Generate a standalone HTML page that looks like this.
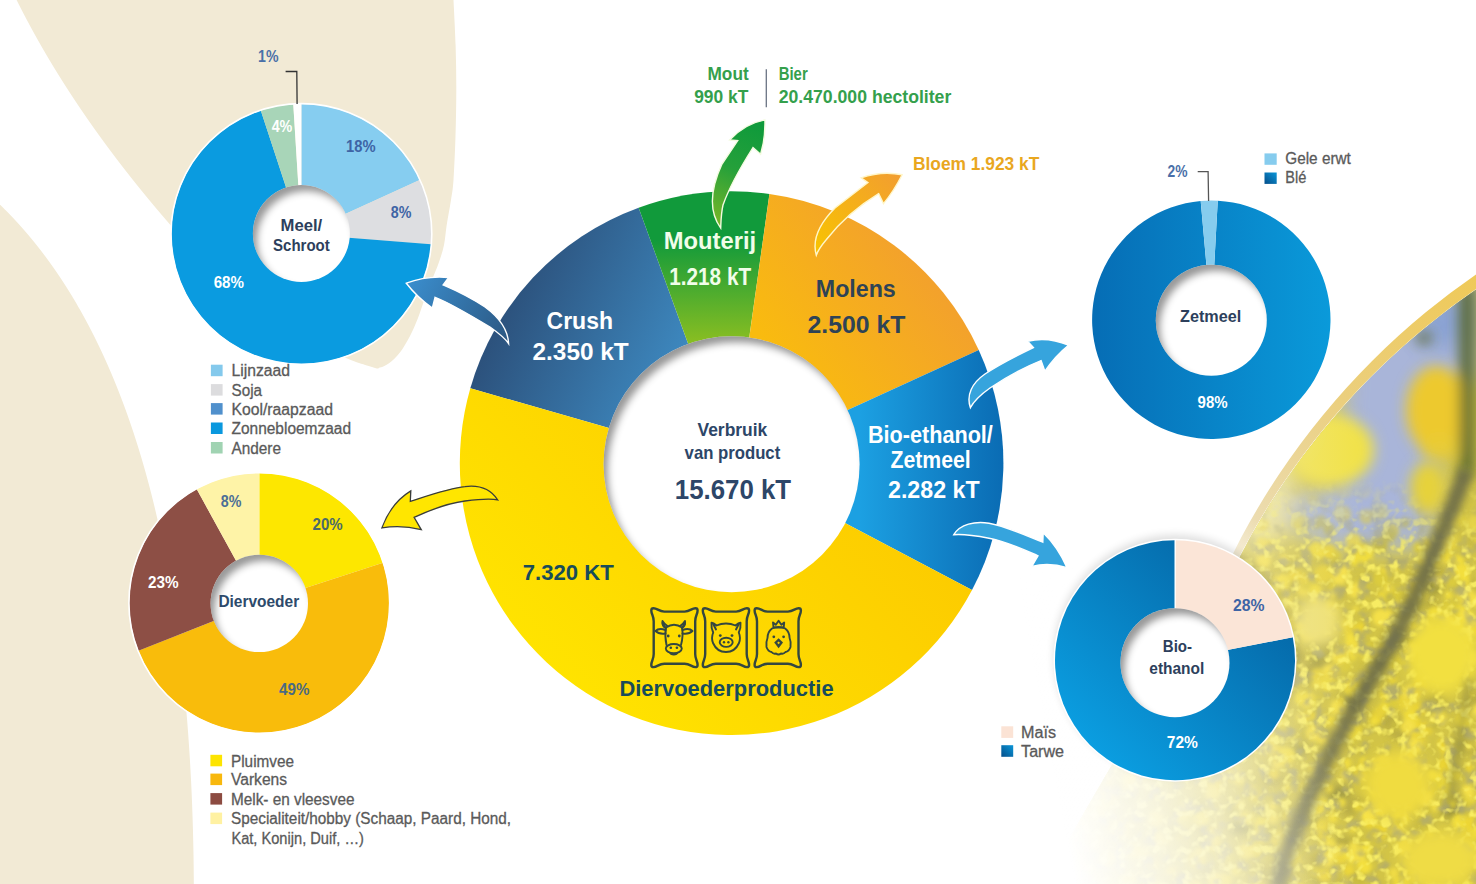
<!DOCTYPE html>
<html><head><meta charset="utf-8"><title>Verbruik van product</title>
<style>
html,body{margin:0;padding:0;background:#fff;}
body{width:1476px;height:884px;overflow:hidden;font-family:"Liberation Sans", sans-serif;}
svg{display:block;}
</style></head><body>
<svg width="1476" height="884" viewBox="0 0 1476 884" font-family='&quot;Liberation Sans&quot;, sans-serif'><defs><radialGradient id="hole" cx="0.57" cy="0.58" r="0.6"><stop offset="0.72" stop-color="#fff"/><stop offset="0.86" stop-color="#f4f4f4"/><stop offset="1" stop-color="#8e8e8e"/></radialGradient>
<filter id="inset" x="-20%" y="-20%" width="140%" height="140%"><feFlood flood-color="#000" flood-opacity="0.68" result="fl"/><feComposite in="fl" in2="SourceAlpha" operator="out" result="inv"/><feOffset in="inv" dx="5" dy="7" result="off"/><feGaussianBlur in="off" stdDeviation="3.6" result="bl"/><feComposite in="bl" in2="SourceAlpha" operator="in" result="sh"/><feMerge><feMergeNode in="SourceGraphic"/><feMergeNode in="sh"/></feMerge></filter>
<linearGradient id="gCrush" gradientUnits="userSpaceOnUse" x1="495" y1="300" x2="690" y2="390"><stop offset="0" stop-color="#2b4e78"/><stop offset="1" stop-color="#3f8ec6"/></linearGradient>
<linearGradient id="gMout" gradientUnits="userSpaceOnUse" x1="0" y1="240" x2="0" y2="340"><stop offset="0" stop-color="#119a3b"/><stop offset="1" stop-color="#86bd22"/></linearGradient>
<linearGradient id="gMol" gradientUnits="userSpaceOnUse" x1="780" y1="360" x2="930" y2="240"><stop offset="0" stop-color="#f9bb0f"/><stop offset="1" stop-color="#f29e30"/></linearGradient>
<linearGradient id="gBio" gradientUnits="userSpaceOnUse" x1="860" y1="0" x2="1005" y2="0"><stop offset="0" stop-color="#1ca0e2"/><stop offset="1" stop-color="#0a6bb3"/></linearGradient>
<linearGradient id="gYel" gradientUnits="userSpaceOnUse" x1="900" y1="450" x2="600" y2="740"><stop offset="0" stop-color="#fcc900"/><stop offset="1" stop-color="#ffe400"/></linearGradient>
<linearGradient id="gZet" gradientUnits="userSpaceOnUse" x1="1092" y1="0" x2="1331" y2="0"><stop offset="0" stop-color="#066db5"/><stop offset="1" stop-color="#0a9ada"/></linearGradient>
<linearGradient id="gTar" gradientUnits="userSpaceOnUse" x1="1280" y1="560" x2="1090" y2="760"><stop offset="0" stop-color="#04609f"/><stop offset="1" stop-color="#0ba0e3"/></linearGradient>
<linearGradient id="gBle" x1="0" y1="1" x2="1" y2="0"><stop offset="0" stop-color="#054e8a"/><stop offset="1" stop-color="#0a96d8"/></linearGradient>
<linearGradient id="gTarw" x1="0" y1="1" x2="1" y2="0"><stop offset="0" stop-color="#054e8a"/><stop offset="1" stop-color="#0a96d8"/></linearGradient>
<linearGradient id="aGreen" gradientUnits="userSpaceOnUse" x1="760" y1="125" x2="715" y2="228"><stop offset="0" stop-color="#0f9a3b"/><stop offset="0.45" stop-color="#25a03a"/><stop offset="1" stop-color="#7db826"/></linearGradient>
<linearGradient id="aOrange" gradientUnits="userSpaceOnUse" x1="900" y1="175" x2="815" y2="255"><stop offset="0" stop-color="#f29e30"/><stop offset="1" stop-color="#f8c400"/></linearGradient>
<linearGradient id="aCrush" gradientUnits="userSpaceOnUse" x1="410" y1="285" x2="508" y2="340"><stop offset="0" stop-color="#3a8ccb"/><stop offset="1" stop-color="#2c5883"/></linearGradient>
<clipPath id="photoClip"><path d="M1476,289.56 A736.8,736.8 0 0 0 1238.09,560 C1190,640 1110,760 1045,884 L1476,884 Z"/></clipPath>
<filter id="blur12" x="-50%" y="-50%" width="200%" height="200%"><feGaussianBlur stdDeviation="12"/></filter>
<filter id="blur8" x="-50%" y="-50%" width="200%" height="200%"><feGaussianBlur stdDeviation="7"/></filter>
<filter id="blur4" x="-50%" y="-50%" width="200%" height="200%"><feGaussianBlur stdDeviation="4"/></filter>
<filter id="blur2" x="-50%" y="-50%" width="200%" height="200%"><feGaussianBlur stdDeviation="2.2"/></filter>
<filter id="blur40" x="-50%" y="-50%" width="200%" height="200%"><feGaussianBlur stdDeviation="38"/></filter>
<filter id="texDark" x="0" y="0" width="100%" height="100%" filterUnits="objectBoundingBox"><feTurbulence type="fractalNoise" baseFrequency="0.07" numOctaves="3" seed="5" result="n"/><feColorMatrix in="n" type="matrix" values="0 0 0 0 0.40  0 0 0 0 0.38  0 0 0 0 0.18  4.2 0 0 0 -2.15" result="c"/><feGaussianBlur in="c" stdDeviation="0.9" result="cb"/><feComposite in="cb" in2="SourceAlpha" operator="in"/></filter>
<filter id="texBright" x="0" y="0" width="100%" height="100%" filterUnits="objectBoundingBox"><feTurbulence type="fractalNoise" baseFrequency="0.11" numOctaves="2" seed="11" result="n"/><feColorMatrix in="n" type="matrix" values="0 0 0 0 0.96  0 0 0 0 0.87  0 0 0 0 0.13  4.5 0 0 0 -2.3" result="c"/><feGaussianBlur in="c" stdDeviation="0.7" result="cb"/><feComposite in="cb" in2="SourceAlpha" operator="in"/></filter>
<linearGradient id="texMaskG" gradientUnits="userSpaceOnUse" x1="0" y1="478" x2="0" y2="560"><stop offset="0" stop-color="#000"/><stop offset="1" stop-color="#fff"/></linearGradient>
<mask id="texMask"><rect x="1040" y="260" width="440" height="630" fill="url(#texMaskG)"/></mask>
<linearGradient id="hazeG" gradientUnits="userSpaceOnUse" x1="1220" y1="0" x2="1360" y2="0"><stop offset="0" stop-color="#f4f0d8" stop-opacity="0.45"/><stop offset="1" stop-color="#f4f0d8" stop-opacity="0"/></linearGradient>
<linearGradient id="bandG" gradientUnits="userSpaceOnUse" x1="1476" y1="270" x2="1225" y2="600"><stop offset="0" stop-color="#efc957"/><stop offset="0.45" stop-color="#ebcf7e"/><stop offset="0.8" stop-color="#ecdcb0"/><stop offset="1" stop-color="#f2e8cc" stop-opacity="0.2"/></linearGradient>
<clipPath id="bandClip"><rect x="1150" y="250" width="330" height="350"/></clipPath>
<linearGradient id="fadeH" gradientUnits="userSpaceOnUse" x1="1065" y1="830" x2="1330" y2="780"><stop offset="0" stop-color="#fff" stop-opacity="1"/><stop offset="0.35" stop-color="#fff" stop-opacity="0.72"/><stop offset="0.7" stop-color="#fff" stop-opacity="0.3"/><stop offset="1" stop-color="#fff" stop-opacity="0"/></linearGradient>
<linearGradient id="fadeV" gradientUnits="userSpaceOnUse" x1="0" y1="560" x2="0" y2="660"><stop offset="0" stop-color="#000"/><stop offset="1" stop-color="#fff"/></linearGradient>
<mask id="fadeMask"><rect x="1000" y="500" width="480" height="390" fill="url(#fadeV)"/></mask></defs>
<rect width="1476" height="884" fill="#fff"/>
<path d="M11.73,-10 C12.55,-8.33 14.97,-3.33 16.62,0 C18.28,3.33 19.97,6.67 21.68,10 C23.39,13.33 25.13,16.67 26.9,20 C28.67,23.33 30.47,26.67 32.29,30 C34.11,33.33 35.96,36.67 37.84,40 C39.72,43.33 41.63,46.67 43.56,50 C45.49,53.33 47.46,56.67 49.44,60 C51.43,63.33 53.45,66.67 55.49,70 C57.54,73.33 59.61,76.67 61.71,80 C63.81,83.33 65.94,86.67 68.09,90 C70.24,93.33 72.43,96.67 74.64,100 C76.85,103.33 79.08,106.67 81.35,110 C83.61,113.33 85.91,116.67 88.23,120 C90.55,123.33 92.89,126.67 95.27,130 C97.64,133.33 100.05,136.67 102.48,140 C104.91,143.33 107.37,146.67 109.85,150 C112.34,153.33 114.85,156.67 117.39,160 C119.93,163.33 122.5,166.67 125.1,170 C127.69,173.33 130.31,176.67 132.97,180 C135.62,183.33 138.3,186.67 141,190 C143.71,193.33 146.44,196.67 149.2,200 C151.97,203.33 154.75,206.67 157.57,210 C160.39,213.33 163.23,216.67 166.1,220 C168.98,223.33 171.88,226.67 174.8,230 C177.73,233.33 180.68,236.67 183.67,240 C186.65,243.33 189.66,246.67 192.7,250 C195.73,253.33 198.8,256.67 201.89,260 C204.98,263.33 208.11,266.67 211.25,270 C214.4,273.33 217.58,276.67 220.78,280 C223.98,283.33 212.27,278.33 230.47,290 C248.67,301.67 306.41,337.17 330,350 C353.59,362.83 363.67,364.08 372,367 C380.33,369.92 377.17,368.12 380,367.5 C382.83,366.88 385.68,365.8 389,363.3 C392.32,360.8 396.42,357.02 399.9,352.5 C403.38,347.98 406.88,341.95 409.9,336.2 C412.92,330.45 415.6,324.03 418,318 C420.4,311.97 421.97,306.33 424.3,300 C426.63,293.67 429.55,286.33 432,280 C434.45,273.67 437,267.83 439,262 C441,256.17 442.72,251.17 444,245 C445.28,238.83 445.53,232.5 446.7,225 C447.87,217.5 449.87,207.5 451,200 C452.13,192.5 452.75,190.67 453.5,180 C454.25,169.33 455.03,151 455.5,136 C455.97,121 456.28,105.17 456.3,90 C456.32,74.83 456.07,60 455.6,45 C455.13,30 453.85,7.5 453.5,0 Z" fill="#f2ead5"/>
<path d="M-2,203 C-1.6,203.33 -1.01,203.67 0.4,205 C1.8,206.33 4.46,209 6.44,211 C8.41,213 10.34,215 12.23,217 C14.12,219 15.98,221 17.8,223 C19.62,225 21.4,227 23.16,229 C24.91,231 26.63,233 28.32,235 C30.01,237 31.67,239 33.3,241 C34.93,243 36.53,245 38.1,247 C39.68,249 41.22,251 42.74,253 C44.27,255 45.76,257 47.23,259 C48.7,261 50.15,263 51.57,265 C53,267 54.4,269 55.78,271 C57.16,273 58.51,275 59.85,277 C61.18,279 62.5,281 63.79,283 C65.09,285 66.36,287 67.62,289 C68.88,291 70.11,293 71.33,295 C72.55,297 73.19,298 74.94,301 C76.69,304 79.6,309 81.84,313 C84.07,317 86.24,321 88.35,325 C90.47,329 92.52,333 94.52,337 C96.51,341 98.46,345 100.35,349 C102.24,353 104.08,357 105.88,361 C107.67,365 109.42,369 111.12,373 C112.82,377 114.48,381 116.09,385 C117.71,389 119.28,393 120.82,397 C122.35,401 123.85,405 125.31,409 C126.77,413 128.19,417 129.57,421 C130.96,425 132.31,429 133.63,433 C134.94,437 136.23,441 137.48,445 C138.73,449 139.95,453 141.15,457 C142.34,461 143.5,465 144.63,469 C145.76,473 146.87,477 147.94,481 C149.02,485 150.07,489 151.09,493 C152.12,497 153.11,501 154.09,505 C155.06,509 156,513 156.93,517 C157.85,521 158.75,525 159.63,529 C160.51,533 161.36,537 162.19,541 C163.02,545 163.83,549 164.62,553 C165.41,557 166.18,561 166.93,565 C167.67,569 168.4,573 169.11,577 C169.81,581 170.5,585 171.17,589 C171.84,593 172.49,597 173.12,601 C173.75,605 174.37,609 174.96,613 C175.56,617 176.14,621 176.7,625 C177.26,629 177.81,633 178.34,637 C178.86,641 179.38,645 179.87,649 C180.37,653 180.85,657 181.31,661 C181.78,665 182.23,669 182.66,673 C183.09,677 183.51,681 183.92,685 C184.32,689 184.71,693 185.09,697 C185.47,701 185.83,705 186.18,709 C186.53,713 186.86,717 187.19,721 C187.51,725 187.82,729 188.11,733 C188.41,737 188.69,741 188.96,745 C189.23,749 189.49,753 189.74,757 C189.98,761 190.22,765 190.44,769 C190.66,773 190.87,777 191.07,781 C191.27,785 191.46,789 191.63,793 C191.81,797 191.97,801 192.13,805 C192.28,809 192.42,813 192.56,817 C192.69,821 192.81,825 192.92,829 C193.03,833 193.13,837 193.22,841 C193.32,845 193.4,849 193.47,853 C193.54,857 193.6,861 193.65,865 C193.7,869 193.74,873.83 193.77,877 C193.8,880.17 193.81,881.83 193.82,884 C193.83,886.17 193.84,889 193.84,890 L0,890 Z" fill="#f2ead5"/>
<g clip-path="url(#photoClip)">
<rect x="1040" y="260" width="440" height="630" fill="#d2c447"/>
<g filter="url(#blur12)">
<path d="M1345,335 L1425,300 L1476,270 L1476,380 L1452,380 L1440,440 L1430,548 L1335,548 L1290,528 L1288,498 L1335,488 Z" fill="#a9b5d9"/>
<ellipse cx="1445" cy="320" rx="28" ry="30" fill="#8aa3d4"/>
<ellipse cx="1262" cy="480" rx="30" ry="70" fill="#ece39a"/>
</g>
<g filter="url(#blur8)">
<ellipse cx="1330" cy="450" rx="44" ry="36" fill="#f1e24a"/>
<ellipse cx="1296" cy="428" rx="24" ry="34" fill="#efe150"/>
<ellipse cx="1436" cy="410" rx="30" ry="44" fill="#edc92e"/>
<ellipse cx="1440" cy="448" rx="20" ry="12" fill="#e9cc34"/>
<ellipse cx="1424" cy="338" rx="8" ry="6" fill="#5a662f"/>
<rect x="1460" y="285" width="14" height="190" fill="#50602e"/>
</g>
<g mask="url(#texMask)">
<g filter="url(#blur4)" opacity="0.8"><ellipse cx="1290.67" cy="584.31" rx="9.56" ry="4.36" fill="#b0a444"/><ellipse cx="1226.36" cy="739.8" rx="11.37" ry="5.07" fill="#a49a3c"/><ellipse cx="1321.42" cy="555.15" rx="5.63" ry="6.12" fill="#b0a444"/><ellipse cx="1234.66" cy="610.37" rx="9.39" ry="8.74" fill="#b0a444"/><ellipse cx="1363.95" cy="547.85" rx="6.55" ry="6.78" fill="#a49a3c"/><ellipse cx="1281.09" cy="581.93" rx="5.82" ry="5.54" fill="#b0a444"/><ellipse cx="1250.6" cy="739.38" rx="9.47" ry="5.86" fill="#b0a444"/><ellipse cx="1399.39" cy="733.17" rx="9.33" ry="6.48" fill="#b0a444"/><ellipse cx="1319.73" cy="643.09" rx="9.1" ry="6.27" fill="#8f8a3a"/><ellipse cx="1269.56" cy="594.72" rx="10.46" ry="4.41" fill="#8f8a3a"/><ellipse cx="1347.06" cy="845.05" rx="10.11" ry="5.44" fill="#a49a3c"/><ellipse cx="1233.06" cy="680.52" rx="10.3" ry="4.76" fill="#8f8a3a"/><ellipse cx="1318.08" cy="876.33" rx="5.54" ry="6.79" fill="#8f8a3a"/><ellipse cx="1295.23" cy="656.06" rx="8.48" ry="7.98" fill="#a49a3c"/><ellipse cx="1435.19" cy="870.09" rx="8.32" ry="7.32" fill="#a49a3c"/><ellipse cx="1404.72" cy="641.46" rx="9.05" ry="7.41" fill="#8f8a3a"/><ellipse cx="1279.69" cy="668.88" rx="9.68" ry="4.11" fill="#8f8a3a"/><ellipse cx="1299.53" cy="749.93" rx="8.46" ry="5.09" fill="#8f8a3a"/><ellipse cx="1236.22" cy="619.14" rx="7.74" ry="8.36" fill="#a49a3c"/><ellipse cx="1246.58" cy="674.59" rx="6.94" ry="4.68" fill="#8f8a3a"/><ellipse cx="1441.92" cy="630.23" rx="7.91" ry="5.79" fill="#8f8a3a"/><ellipse cx="1468.16" cy="584.33" rx="6.23" ry="5.16" fill="#a49a3c"/><ellipse cx="1203.38" cy="829.19" rx="6.28" ry="5.41" fill="#a49a3c"/><ellipse cx="1317.31" cy="662.93" rx="8.96" ry="8.77" fill="#b0a444"/><ellipse cx="1440.58" cy="872.08" rx="9.58" ry="7.7" fill="#8f8a3a"/><ellipse cx="1451.87" cy="810.79" rx="11.12" ry="7.99" fill="#8f8a3a"/><ellipse cx="1311.46" cy="671.88" rx="8.37" ry="6" fill="#a49a3c"/><ellipse cx="1218.86" cy="605.15" rx="6.14" ry="5.7" fill="#a49a3c"/><ellipse cx="1228.67" cy="734.04" rx="8.76" ry="8.74" fill="#b0a444"/><ellipse cx="1207.14" cy="844.76" rx="9.3" ry="4.74" fill="#8f8a3a"/><ellipse cx="1467.53" cy="746.82" rx="8.32" ry="4.58" fill="#8f8a3a"/><ellipse cx="1478.07" cy="697.76" rx="8.39" ry="4.43" fill="#a49a3c"/><ellipse cx="1409.91" cy="796.53" rx="8.35" ry="7.46" fill="#b0a444"/><ellipse cx="1206.47" cy="872.35" rx="8.7" ry="4.73" fill="#b0a444"/><ellipse cx="1455.96" cy="802.93" rx="7.09" ry="7.21" fill="#a49a3c"/><ellipse cx="1394.94" cy="624" rx="7.57" ry="4.84" fill="#a49a3c"/><ellipse cx="1349.13" cy="810.46" rx="7.31" ry="5.12" fill="#a49a3c"/><ellipse cx="1425.7" cy="824.6" rx="10.18" ry="5.13" fill="#b0a444"/><ellipse cx="1337.98" cy="793.16" rx="11.93" ry="7.95" fill="#8f8a3a"/><ellipse cx="1272.57" cy="779.31" rx="11.7" ry="6.24" fill="#b0a444"/><ellipse cx="1476.65" cy="873.8" rx="7.55" ry="5.1" fill="#a49a3c"/><ellipse cx="1331.62" cy="651.59" rx="8.38" ry="8.93" fill="#b0a444"/><ellipse cx="1435.32" cy="702.61" rx="9.57" ry="8" fill="#a49a3c"/><ellipse cx="1433.7" cy="573.17" rx="7.72" ry="7.56" fill="#a49a3c"/><ellipse cx="1333.85" cy="594.27" rx="10.52" ry="5.66" fill="#b0a444"/><ellipse cx="1310.83" cy="674.5" rx="11.63" ry="7.62" fill="#a49a3c"/><ellipse cx="1478.07" cy="539.92" rx="9.14" ry="6.33" fill="#b0a444"/><ellipse cx="1240.93" cy="827.54" rx="11.86" ry="7.29" fill="#8f8a3a"/><ellipse cx="1243.66" cy="727.38" rx="5.15" ry="8" fill="#b0a444"/><ellipse cx="1381.91" cy="719.57" rx="11.54" ry="6.17" fill="#a49a3c"/><ellipse cx="1431.32" cy="605.98" rx="6.76" ry="5.46" fill="#a49a3c"/><ellipse cx="1413.83" cy="647.36" rx="8.81" ry="8.17" fill="#a49a3c"/><ellipse cx="1454.8" cy="657.36" rx="8.21" ry="6.92" fill="#b0a444"/><ellipse cx="1317.78" cy="860.38" rx="8.51" ry="6.66" fill="#b0a444"/><ellipse cx="1342.95" cy="844.21" rx="10.44" ry="7.04" fill="#a49a3c"/><ellipse cx="1248.26" cy="700.46" rx="10.08" ry="6.78" fill="#8f8a3a"/><ellipse cx="1391.05" cy="721.06" rx="8.38" ry="7.88" fill="#b0a444"/><ellipse cx="1215.91" cy="598.87" rx="5.3" ry="4.49" fill="#8f8a3a"/><ellipse cx="1357.28" cy="803.6" rx="11.39" ry="6.22" fill="#b0a444"/><ellipse cx="1472.54" cy="748.21" rx="6.4" ry="5.39" fill="#b0a444"/><ellipse cx="1349.32" cy="702.09" rx="11.59" ry="7.5" fill="#8f8a3a"/><ellipse cx="1458.38" cy="851.39" rx="6.42" ry="6.24" fill="#8f8a3a"/><ellipse cx="1234.05" cy="689.16" rx="5.51" ry="5.2" fill="#a49a3c"/><ellipse cx="1259.55" cy="639" rx="5.86" ry="7.88" fill="#b0a444"/><ellipse cx="1380.17" cy="661.83" rx="6.77" ry="4.69" fill="#8f8a3a"/><ellipse cx="1261.48" cy="872.9" rx="7.79" ry="6.44" fill="#b0a444"/><ellipse cx="1433.08" cy="588.13" rx="8.02" ry="6.58" fill="#8f8a3a"/><ellipse cx="1317.96" cy="658.38" rx="5.65" ry="5.83" fill="#8f8a3a"/><ellipse cx="1355.13" cy="688.56" rx="5.13" ry="5.66" fill="#b0a444"/><ellipse cx="1282.73" cy="875.88" rx="5.79" ry="8.59" fill="#a49a3c"/></g>
<g filter="url(#blur2)"><circle cx="1467.55" cy="487.15" r="3.24" fill="#f6e24a"/><circle cx="1159" cy="498.3" r="8.47" fill="#f0dc44"/><circle cx="1218.62" cy="681.47" r="6.09" fill="#dccc3c"/><circle cx="1348.18" cy="480.26" r="7.13" fill="#f1dd3a"/><circle cx="1433.93" cy="561.02" r="3.1" fill="#ecd535"/><circle cx="1069.31" cy="828.25" r="5.72" fill="#f4e04a"/><circle cx="1477.49" cy="627.99" r="8.49" fill="#f6e24a"/><circle cx="1059.01" cy="759.29" r="8.63" fill="#f6e24a"/><circle cx="1316.62" cy="678.99" r="4.24" fill="#dccc3c"/><circle cx="1260.04" cy="520.05" r="3.11" fill="#f0dc44"/><circle cx="1470.34" cy="671.41" r="4.47" fill="#dccc3c"/><circle cx="1086.76" cy="808.51" r="5.59" fill="#dccc3c"/><circle cx="1280.2" cy="839.93" r="8.82" fill="#f0dc44"/><circle cx="1342.61" cy="882.1" r="5.06" fill="#f6e24a"/><circle cx="1218.07" cy="596.4" r="3.33" fill="#f6e24a"/><circle cx="1046.27" cy="721.45" r="8.28" fill="#f1dd3a"/><circle cx="1423.04" cy="741.74" r="4.69" fill="#e6d23a"/><circle cx="1184.73" cy="883.21" r="4.94" fill="#f3df3c"/><circle cx="1464.89" cy="579.3" r="5.14" fill="#f3df3c"/><circle cx="1328.65" cy="551.68" r="7.66" fill="#ecd535"/><circle cx="1142.44" cy="703.51" r="6.18" fill="#f6e24a"/><circle cx="1329.32" cy="762.2" r="8.27" fill="#f1dd3a"/><circle cx="1376.3" cy="764.3" r="5.97" fill="#f0dc44"/><circle cx="1358.63" cy="729.45" r="3.26" fill="#c8bb40"/><circle cx="1316.03" cy="770.23" r="7.87" fill="#f6e24a"/><circle cx="1440.35" cy="778.79" r="6.41" fill="#f3df3c"/><circle cx="1403.62" cy="702.83" r="8.36" fill="#e6d23a"/><circle cx="1462.19" cy="609.48" r="5.71" fill="#f3df3c"/><circle cx="1316.22" cy="721.8" r="7.08" fill="#dccc3c"/><circle cx="1156.07" cy="645.63" r="3.42" fill="#c8bb40"/><circle cx="1368.12" cy="653.24" r="7.86" fill="#f0dc44"/><circle cx="1143.31" cy="780.4" r="4.38" fill="#dccc3c"/><circle cx="1257.34" cy="612.15" r="5.87" fill="#f0dc44"/><circle cx="1377.47" cy="717.64" r="6.86" fill="#ecd535"/><circle cx="1303.87" cy="589.3" r="6.91" fill="#f0dc44"/><circle cx="1313.31" cy="500.05" r="5.91" fill="#ecd535"/><circle cx="1344.56" cy="744.07" r="4.75" fill="#c8bb40"/><circle cx="1165.64" cy="649.65" r="7.6" fill="#c8bb40"/><circle cx="1127.67" cy="880.16" r="8.62" fill="#f3df3c"/><circle cx="1477.63" cy="887.29" r="5.32" fill="#e6d23a"/><circle cx="1155.2" cy="601.8" r="6.62" fill="#c8bb40"/><circle cx="1259.07" cy="834.27" r="5.36" fill="#f6e24a"/><circle cx="1041.58" cy="661.26" r="5.7" fill="#f0dc44"/><circle cx="1359.96" cy="627.28" r="5.26" fill="#ecd535"/><circle cx="1353.73" cy="845.7" r="4.74" fill="#f4e04a"/><circle cx="1068.59" cy="615.57" r="8.22" fill="#ecd535"/><circle cx="1198.71" cy="632.62" r="4.65" fill="#f3df3c"/><circle cx="1231.95" cy="582.02" r="7.64" fill="#f1dd3a"/><circle cx="1429.08" cy="805.38" r="6.79" fill="#c8bb40"/><circle cx="1281.66" cy="763.81" r="3.3" fill="#f1dd3a"/><circle cx="1238.38" cy="778.7" r="6.87" fill="#f0dc44"/><circle cx="1253.65" cy="850.36" r="6.3" fill="#f6e24a"/><circle cx="1247.76" cy="594.65" r="4.79" fill="#f0dc44"/><circle cx="1218.73" cy="547.4" r="5.9" fill="#f1dd3a"/><circle cx="1092.69" cy="729.44" r="3.45" fill="#c8bb40"/><circle cx="1438.62" cy="663.68" r="4.32" fill="#f4e04a"/><circle cx="1478.45" cy="642.48" r="3.84" fill="#e6d23a"/><circle cx="1147.4" cy="518.61" r="4.92" fill="#f4e04a"/><circle cx="1153.68" cy="696.33" r="8.32" fill="#f1dd3a"/><circle cx="1208.45" cy="775.63" r="4.26" fill="#f0dc44"/><circle cx="1317.04" cy="828.29" r="4.3" fill="#f0dc44"/><circle cx="1434.59" cy="613.05" r="6.87" fill="#f1dd3a"/><circle cx="1459.74" cy="821.91" r="8.24" fill="#f3df3c"/><circle cx="1095.99" cy="631.34" r="7.58" fill="#dccc3c"/><circle cx="1466.04" cy="660.42" r="3.44" fill="#c8bb40"/><circle cx="1416.4" cy="877.51" r="4.49" fill="#ecd535"/><circle cx="1087.91" cy="811.43" r="7.21" fill="#dccc3c"/><circle cx="1077.4" cy="789.59" r="3.01" fill="#f6e24a"/><circle cx="1142.33" cy="853.96" r="6.87" fill="#f0dc44"/><circle cx="1463.47" cy="721.91" r="6.17" fill="#f1dd3a"/><circle cx="1347.38" cy="490.46" r="6.15" fill="#e6d23a"/><circle cx="1210.76" cy="540.61" r="6.61" fill="#f3df3c"/><circle cx="1276.49" cy="888.37" r="4.67" fill="#f4e04a"/><circle cx="1323.61" cy="837.7" r="5.85" fill="#e6d23a"/><circle cx="1429.33" cy="731.23" r="3.49" fill="#e6d23a"/><circle cx="1333.64" cy="856.32" r="4.36" fill="#f3df3c"/><circle cx="1346.16" cy="763.25" r="5.17" fill="#f1dd3a"/><circle cx="1127.16" cy="798.68" r="7.43" fill="#c8bb40"/><circle cx="1069.67" cy="663.06" r="4.2" fill="#e6d23a"/><circle cx="1141.56" cy="539.65" r="7.56" fill="#f0dc44"/><circle cx="1087.96" cy="720.62" r="6.66" fill="#e6d23a"/><circle cx="1253.42" cy="849.68" r="3.34" fill="#f6e24a"/><circle cx="1302.3" cy="626.92" r="7.26" fill="#f6e24a"/><circle cx="1213.06" cy="844.18" r="8.3" fill="#ecd535"/><circle cx="1478.91" cy="859.22" r="4.98" fill="#f6e24a"/><circle cx="1327.09" cy="676.16" r="5.81" fill="#f0dc44"/><circle cx="1332.35" cy="610.38" r="5.24" fill="#f4e04a"/><circle cx="1234.67" cy="489.03" r="3.48" fill="#f1dd3a"/><circle cx="1131.26" cy="600.48" r="7.93" fill="#f1dd3a"/><circle cx="1078.61" cy="757.37" r="4.17" fill="#c8bb40"/><circle cx="1444.58" cy="526.86" r="8.38" fill="#f3df3c"/><circle cx="1317.93" cy="551.61" r="6.75" fill="#f1dd3a"/><circle cx="1444.83" cy="555.66" r="7.48" fill="#f4e04a"/><circle cx="1199.71" cy="590.74" r="8.72" fill="#f3df3c"/><circle cx="1155.36" cy="762.49" r="4.9" fill="#f0dc44"/><circle cx="1170.86" cy="764.71" r="6.57" fill="#ecd535"/><circle cx="1050.67" cy="545.24" r="5.85" fill="#dccc3c"/><circle cx="1459.72" cy="613.93" r="4.51" fill="#f1dd3a"/><circle cx="1043.83" cy="858.98" r="4.82" fill="#f6e24a"/><circle cx="1307.19" cy="587.51" r="4.92" fill="#f4e04a"/><circle cx="1384.89" cy="708.07" r="6.07" fill="#f1dd3a"/><circle cx="1371.27" cy="551.29" r="3.39" fill="#f3df3c"/><circle cx="1251.94" cy="685.08" r="3.96" fill="#f1dd3a"/><circle cx="1428.73" cy="884.52" r="4.59" fill="#ecd535"/><circle cx="1131.67" cy="629.48" r="8.93" fill="#dccc3c"/><circle cx="1116.2" cy="499.82" r="8.35" fill="#e6d23a"/><circle cx="1369.11" cy="821.14" r="6.99" fill="#ecd535"/><circle cx="1383.09" cy="572.27" r="4.68" fill="#f0dc44"/><circle cx="1204.11" cy="772.13" r="4.2" fill="#e6d23a"/><circle cx="1121.72" cy="545.98" r="4.69" fill="#e6d23a"/><circle cx="1183.59" cy="618.23" r="8.95" fill="#c8bb40"/><circle cx="1271.58" cy="732.34" r="3.6" fill="#dccc3c"/><circle cx="1400.41" cy="818.25" r="8.49" fill="#f3df3c"/><circle cx="1425.83" cy="544.8" r="6.6" fill="#e6d23a"/><circle cx="1449.28" cy="607.51" r="8.2" fill="#dccc3c"/><circle cx="1305.34" cy="788.75" r="6.99" fill="#f3df3c"/><circle cx="1086.54" cy="708.27" r="6.72" fill="#e6d23a"/><circle cx="1056.48" cy="593.01" r="3.26" fill="#f0dc44"/><circle cx="1056.82" cy="769.5" r="8.48" fill="#f3df3c"/><circle cx="1400.29" cy="624.05" r="5.23" fill="#f0dc44"/><circle cx="1252.74" cy="623.68" r="7.78" fill="#c8bb40"/><circle cx="1108" cy="680.3" r="6.92" fill="#f1dd3a"/><circle cx="1345.98" cy="624.41" r="4.7" fill="#f0dc44"/><circle cx="1428.83" cy="626.34" r="3.11" fill="#f4e04a"/><circle cx="1323.57" cy="615.83" r="5.43" fill="#f3df3c"/><circle cx="1231.03" cy="510.46" r="3.54" fill="#f4e04a"/><circle cx="1242.8" cy="513.15" r="6.31" fill="#f1dd3a"/><circle cx="1079.17" cy="719.99" r="5.23" fill="#c8bb40"/><circle cx="1115.54" cy="596.58" r="3.97" fill="#f6e24a"/><circle cx="1394.12" cy="875.09" r="4.18" fill="#f6e24a"/><circle cx="1178.39" cy="713.44" r="6.82" fill="#ecd535"/><circle cx="1437.86" cy="719.15" r="7.95" fill="#f6e24a"/><circle cx="1321.74" cy="825.46" r="6.73" fill="#e6d23a"/><circle cx="1404.84" cy="522.33" r="5.4" fill="#c8bb40"/><circle cx="1108.85" cy="601.64" r="3.9" fill="#e6d23a"/><circle cx="1058.08" cy="693.05" r="7.54" fill="#f3df3c"/><circle cx="1333.87" cy="585.89" r="5.34" fill="#dccc3c"/><circle cx="1282.02" cy="722.17" r="4.84" fill="#f1dd3a"/><circle cx="1175.61" cy="552.17" r="5.34" fill="#f4e04a"/><circle cx="1236.59" cy="637.26" r="3.14" fill="#dccc3c"/><circle cx="1244.72" cy="641.07" r="6.71" fill="#dccc3c"/><circle cx="1408.08" cy="804.74" r="5.4" fill="#ecd535"/><circle cx="1096.52" cy="633.77" r="3.55" fill="#dccc3c"/><circle cx="1261.91" cy="735.69" r="3.24" fill="#f6e24a"/><circle cx="1076.19" cy="770.07" r="7.67" fill="#c8bb40"/><circle cx="1075.19" cy="778.43" r="8.37" fill="#f6e24a"/><circle cx="1344.72" cy="489.31" r="8.31" fill="#f0dc44"/><circle cx="1460.92" cy="852.22" r="3.99" fill="#e6d23a"/><circle cx="1068.83" cy="597.9" r="7.54" fill="#f6e24a"/><circle cx="1182.49" cy="716.09" r="8.43" fill="#dccc3c"/><circle cx="1103.17" cy="666" r="8.52" fill="#e6d23a"/><circle cx="1300.43" cy="717.14" r="4.42" fill="#f4e04a"/><circle cx="1056.21" cy="521.94" r="8.62" fill="#f4e04a"/><circle cx="1090.63" cy="678.82" r="6.82" fill="#f4e04a"/><circle cx="1465.11" cy="643.87" r="6.13" fill="#ecd535"/><circle cx="1150.89" cy="681.07" r="8.14" fill="#f4e04a"/><circle cx="1156.49" cy="885.72" r="6.46" fill="#f4e04a"/><circle cx="1310.76" cy="871.09" r="4.78" fill="#c8bb40"/><circle cx="1151.61" cy="727.66" r="8.9" fill="#f4e04a"/><circle cx="1362.54" cy="776.2" r="4.33" fill="#f0dc44"/><circle cx="1311.06" cy="634.5" r="6.08" fill="#f3df3c"/><circle cx="1098.09" cy="542.27" r="6.92" fill="#f3df3c"/><circle cx="1063.93" cy="695.2" r="4.82" fill="#c8bb40"/><circle cx="1197.15" cy="540.92" r="6.5" fill="#f6e24a"/><circle cx="1129.84" cy="720.77" r="5.85" fill="#f6e24a"/><circle cx="1046.21" cy="800.68" r="7.24" fill="#dccc3c"/><circle cx="1082.15" cy="727.19" r="8.23" fill="#f0dc44"/><circle cx="1216.86" cy="558.91" r="3.07" fill="#c8bb40"/><circle cx="1432.78" cy="707.63" r="6.47" fill="#c8bb40"/><circle cx="1362.75" cy="551.82" r="8.42" fill="#f3df3c"/><circle cx="1110.06" cy="850.28" r="3.63" fill="#c8bb40"/><circle cx="1328.99" cy="528.77" r="6.11" fill="#c8bb40"/><circle cx="1324.94" cy="626.86" r="6.68" fill="#c8bb40"/><circle cx="1176.13" cy="575.12" r="3.29" fill="#dccc3c"/><circle cx="1367.88" cy="649.37" r="7.45" fill="#dccc3c"/><circle cx="1117.17" cy="888.47" r="4.57" fill="#f3df3c"/><circle cx="1094.24" cy="841.07" r="8.55" fill="#f0dc44"/><circle cx="1353.14" cy="559.69" r="6.32" fill="#f1dd3a"/><circle cx="1341.72" cy="852.77" r="8.83" fill="#f0dc44"/><circle cx="1322.48" cy="874.31" r="4.3" fill="#c8bb40"/><circle cx="1046.7" cy="557.17" r="4.42" fill="#e6d23a"/><circle cx="1455.67" cy="775.77" r="4.96" fill="#f1dd3a"/><circle cx="1184.56" cy="547.63" r="8.45" fill="#c8bb40"/><circle cx="1246.58" cy="817.87" r="7.19" fill="#f3df3c"/><circle cx="1232.37" cy="766.08" r="6.42" fill="#f0dc44"/><circle cx="1387.25" cy="616.2" r="6.51" fill="#f6e24a"/><circle cx="1448.74" cy="595.19" r="3.85" fill="#f3df3c"/><circle cx="1416.86" cy="782.8" r="4.2" fill="#c8bb40"/><circle cx="1442.34" cy="864.95" r="3.64" fill="#e6d23a"/><circle cx="1440.89" cy="779.19" r="3.52" fill="#f0dc44"/><circle cx="1324.38" cy="572.51" r="5.02" fill="#f0dc44"/><circle cx="1049.2" cy="555.52" r="4.7" fill="#f4e04a"/><circle cx="1440.55" cy="786.16" r="6.61" fill="#dccc3c"/><circle cx="1414.61" cy="718.22" r="3.19" fill="#f1dd3a"/><circle cx="1053.75" cy="673.38" r="3.59" fill="#dccc3c"/><circle cx="1350.05" cy="682.05" r="4.3" fill="#ecd535"/><circle cx="1292.8" cy="569.2" r="5.62" fill="#c8bb40"/><circle cx="1128.9" cy="782.98" r="8.87" fill="#f3df3c"/><circle cx="1403.15" cy="875.22" r="6.56" fill="#c8bb40"/><circle cx="1154.65" cy="864.74" r="4.7" fill="#e6d23a"/><circle cx="1452.85" cy="544.19" r="3.99" fill="#ecd535"/><circle cx="1255.73" cy="886" r="6.37" fill="#ecd535"/><circle cx="1316.29" cy="600.03" r="5.41" fill="#f1dd3a"/><circle cx="1432.41" cy="775.35" r="5.53" fill="#f3df3c"/><circle cx="1203.66" cy="576.41" r="5.57" fill="#c8bb40"/><circle cx="1260.52" cy="610.69" r="8.3" fill="#e6d23a"/><circle cx="1343.26" cy="712.41" r="3.2" fill="#f4e04a"/><circle cx="1269.56" cy="830.6" r="5.7" fill="#c8bb40"/><circle cx="1366.47" cy="516.3" r="7.64" fill="#e6d23a"/><circle cx="1095.47" cy="647.91" r="8.31" fill="#e6d23a"/><circle cx="1263.39" cy="560.37" r="7.53" fill="#f6e24a"/><circle cx="1358.27" cy="878.65" r="7.34" fill="#c8bb40"/><circle cx="1193.4" cy="546.3" r="8.73" fill="#f0dc44"/><circle cx="1469.07" cy="767.93" r="3.61" fill="#ecd535"/><circle cx="1125.99" cy="507.93" r="4.81" fill="#f0dc44"/><circle cx="1231.37" cy="528.29" r="3.64" fill="#e6d23a"/><circle cx="1429.51" cy="648.76" r="3.08" fill="#f1dd3a"/><circle cx="1345.11" cy="665.22" r="6.79" fill="#dccc3c"/><circle cx="1049.73" cy="555.75" r="7.43" fill="#f3df3c"/><circle cx="1366.02" cy="848.6" r="5.58" fill="#f1dd3a"/><circle cx="1412.24" cy="740.55" r="6.91" fill="#e6d23a"/><circle cx="1339.02" cy="728.69" r="5.72" fill="#f4e04a"/><circle cx="1154.32" cy="755.29" r="8.37" fill="#e6d23a"/><circle cx="1384.25" cy="760.92" r="6.78" fill="#f0dc44"/><circle cx="1413.75" cy="657.23" r="3.12" fill="#f1dd3a"/><circle cx="1268.03" cy="737.5" r="8.24" fill="#f4e04a"/><circle cx="1382.4" cy="614.92" r="5.94" fill="#ecd535"/><circle cx="1056.78" cy="684.51" r="3.97" fill="#e6d23a"/><circle cx="1278.06" cy="762.78" r="6.07" fill="#f4e04a"/><circle cx="1269.54" cy="624.66" r="8.69" fill="#e6d23a"/><circle cx="1475.72" cy="522.71" r="8.6" fill="#f4e04a"/><circle cx="1320.53" cy="553.61" r="5.29" fill="#f3df3c"/><circle cx="1045.86" cy="628.36" r="5.52" fill="#f4e04a"/><circle cx="1295.28" cy="489.17" r="5.4" fill="#c8bb40"/><circle cx="1467.46" cy="887.4" r="8.77" fill="#dccc3c"/><circle cx="1396.21" cy="725.43" r="5.81" fill="#c8bb40"/><circle cx="1357.11" cy="806.59" r="3.88" fill="#f1dd3a"/><circle cx="1245.96" cy="572.45" r="6.29" fill="#f6e24a"/><circle cx="1383.13" cy="651.23" r="7.7" fill="#e6d23a"/><circle cx="1157.67" cy="609.27" r="4.52" fill="#f1dd3a"/><circle cx="1338.68" cy="656.71" r="7.83" fill="#f0dc44"/><circle cx="1197.51" cy="734.48" r="4.92" fill="#dccc3c"/><circle cx="1228.54" cy="726.79" r="6.96" fill="#f4e04a"/><circle cx="1107.21" cy="576.43" r="5.31" fill="#ecd535"/><circle cx="1404.28" cy="847.61" r="7.7" fill="#f6e24a"/><circle cx="1273.49" cy="595.32" r="6.49" fill="#f3df3c"/><circle cx="1307.61" cy="700.32" r="8.13" fill="#f6e24a"/><circle cx="1381.57" cy="595.9" r="3.92" fill="#f1dd3a"/><circle cx="1307.68" cy="791.58" r="7.01" fill="#c8bb40"/><circle cx="1386.75" cy="817.46" r="4.18" fill="#e6d23a"/><circle cx="1273.55" cy="773.86" r="5.63" fill="#ecd535"/><circle cx="1284.23" cy="559.02" r="4.41" fill="#f6e24a"/><circle cx="1248.23" cy="690.74" r="5.91" fill="#f6e24a"/><circle cx="1348.19" cy="550.95" r="3.99" fill="#f3df3c"/><circle cx="1110.56" cy="584.31" r="7.18" fill="#dccc3c"/><circle cx="1332.73" cy="818.25" r="5.25" fill="#f1dd3a"/><circle cx="1479.98" cy="744.18" r="4.08" fill="#f4e04a"/><circle cx="1340.34" cy="859.17" r="4.98" fill="#ecd535"/><circle cx="1264.68" cy="658.1" r="8.39" fill="#f3df3c"/><circle cx="1133.88" cy="627.02" r="3.76" fill="#ecd535"/><circle cx="1419.14" cy="604.77" r="5.85" fill="#c8bb40"/><circle cx="1283.82" cy="850.55" r="4.7" fill="#f4e04a"/><circle cx="1225.85" cy="689.31" r="7.96" fill="#f0dc44"/><circle cx="1196.28" cy="662.18" r="5" fill="#f0dc44"/><circle cx="1424.1" cy="595.16" r="4.22" fill="#dccc3c"/><circle cx="1388.46" cy="588.9" r="4.9" fill="#f0dc44"/><circle cx="1096.13" cy="877.74" r="3.53" fill="#f3df3c"/><circle cx="1215.51" cy="689.43" r="5.44" fill="#f3df3c"/><circle cx="1215.33" cy="488.83" r="7.93" fill="#dccc3c"/><circle cx="1307.82" cy="736.11" r="7.73" fill="#c8bb40"/><circle cx="1309.17" cy="717.51" r="6.76" fill="#ecd535"/><circle cx="1133.5" cy="740.15" r="5.75" fill="#f6e24a"/><circle cx="1084.6" cy="521.58" r="7.65" fill="#f3df3c"/><circle cx="1202.3" cy="810.17" r="7.72" fill="#c8bb40"/><circle cx="1352.46" cy="828.1" r="4.11" fill="#f3df3c"/><circle cx="1180.13" cy="633.8" r="6.85" fill="#f3df3c"/><circle cx="1259.02" cy="674.97" r="7.95" fill="#f1dd3a"/><circle cx="1293.14" cy="853.38" r="5.68" fill="#f3df3c"/><circle cx="1339.18" cy="707.24" r="8.96" fill="#f6e24a"/><circle cx="1249.2" cy="625.59" r="3.61" fill="#dccc3c"/><circle cx="1133.4" cy="508.29" r="3.03" fill="#ecd535"/><circle cx="1474.13" cy="826.31" r="4.31" fill="#ecd535"/><circle cx="1146.6" cy="770.1" r="4.12" fill="#f3df3c"/><circle cx="1200.98" cy="776.26" r="7.17" fill="#f6e24a"/><circle cx="1352.06" cy="647.26" r="8.59" fill="#f0dc44"/><circle cx="1066.64" cy="837.5" r="7.12" fill="#ecd535"/><circle cx="1211.14" cy="580.62" r="6.6" fill="#dccc3c"/><circle cx="1307.94" cy="582.33" r="8.69" fill="#dccc3c"/><circle cx="1091.35" cy="869.25" r="3.98" fill="#f1dd3a"/><circle cx="1249.86" cy="790.14" r="5.72" fill="#f0dc44"/><circle cx="1385.23" cy="695.07" r="4.75" fill="#f3df3c"/><circle cx="1313.61" cy="732.93" r="7.81" fill="#f4e04a"/><circle cx="1422.61" cy="766.57" r="3.09" fill="#f6e24a"/><circle cx="1304.5" cy="578.87" r="5.57" fill="#e6d23a"/><circle cx="1205.74" cy="748.17" r="6.61" fill="#e6d23a"/><circle cx="1395.29" cy="567.49" r="3.01" fill="#f0dc44"/><circle cx="1375.86" cy="792.39" r="4.73" fill="#f6e24a"/><circle cx="1397.17" cy="830.24" r="6.43" fill="#f0dc44"/><circle cx="1469.16" cy="798.77" r="6.29" fill="#dccc3c"/><circle cx="1390.85" cy="530.19" r="8.59" fill="#e6d23a"/><circle cx="1351.67" cy="856.7" r="6.52" fill="#f3df3c"/><circle cx="1388.33" cy="646.87" r="3.53" fill="#f4e04a"/><circle cx="1379.75" cy="544.79" r="8.38" fill="#c8bb40"/><circle cx="1181.24" cy="667.78" r="4.21" fill="#e6d23a"/><circle cx="1124.62" cy="521.31" r="5.18" fill="#f4e04a"/><circle cx="1217.1" cy="672.75" r="3.89" fill="#f3df3c"/><circle cx="1445.95" cy="661.97" r="8.2" fill="#f4e04a"/><circle cx="1318.41" cy="794.31" r="3.94" fill="#f3df3c"/><circle cx="1191.77" cy="673.76" r="3.12" fill="#f3df3c"/><circle cx="1130.04" cy="831.85" r="6.39" fill="#e6d23a"/><circle cx="1155.1" cy="790.64" r="5.56" fill="#dccc3c"/><circle cx="1377.59" cy="808.47" r="8.78" fill="#f0dc44"/><circle cx="1411.25" cy="592.48" r="8.97" fill="#f1dd3a"/><circle cx="1423.09" cy="646.23" r="8.68" fill="#ecd535"/><circle cx="1419.71" cy="727.93" r="8.53" fill="#ecd535"/><circle cx="1153.17" cy="694.01" r="6.84" fill="#c8bb40"/><circle cx="1212.97" cy="641.75" r="3.96" fill="#e6d23a"/><circle cx="1476.35" cy="539.77" r="3.23" fill="#f0dc44"/><circle cx="1052.23" cy="853.6" r="4.55" fill="#c8bb40"/><circle cx="1352.23" cy="731.01" r="8.91" fill="#f3df3c"/><circle cx="1084.46" cy="582.96" r="3.03" fill="#e6d23a"/><circle cx="1337.83" cy="574.46" r="6.55" fill="#ecd535"/><circle cx="1247.12" cy="607.26" r="5.34" fill="#f4e04a"/><circle cx="1251.78" cy="515.86" r="3.86" fill="#f3df3c"/><circle cx="1245.88" cy="850.66" r="7.79" fill="#f6e24a"/><circle cx="1448.18" cy="539.25" r="8.6" fill="#f4e04a"/><circle cx="1082.67" cy="857.95" r="8.05" fill="#ecd535"/><circle cx="1239.03" cy="592.9" r="7.94" fill="#dccc3c"/><circle cx="1090.87" cy="604.71" r="4.99" fill="#f3df3c"/><circle cx="1119.31" cy="643.12" r="8.34" fill="#dccc3c"/><circle cx="1423.12" cy="559.88" r="5.47" fill="#f6e24a"/><circle cx="1051.18" cy="696.95" r="4.78" fill="#f6e24a"/><circle cx="1252.27" cy="509.02" r="6.79" fill="#e6d23a"/><circle cx="1286.37" cy="815.88" r="3.72" fill="#e6d23a"/><circle cx="1467.11" cy="634.43" r="4.57" fill="#e6d23a"/><circle cx="1169.15" cy="880.38" r="3.1" fill="#c8bb40"/><circle cx="1190" cy="503.06" r="7.99" fill="#c8bb40"/><circle cx="1166.01" cy="602.04" r="3.24" fill="#f1dd3a"/><circle cx="1136.04" cy="697.1" r="3.83" fill="#f6e24a"/><circle cx="1269.53" cy="543.69" r="4.05" fill="#ecd535"/><circle cx="1404.75" cy="840.2" r="7.39" fill="#f0dc44"/><circle cx="1316.52" cy="526.48" r="3.06" fill="#c8bb40"/><circle cx="1219.57" cy="764.75" r="3.33" fill="#f4e04a"/><circle cx="1187.5" cy="818.86" r="8.19" fill="#dccc3c"/><circle cx="1079.75" cy="624.28" r="7.58" fill="#f6e24a"/><circle cx="1423.69" cy="559.82" r="4.12" fill="#f4e04a"/><circle cx="1056.14" cy="756.02" r="6.45" fill="#f3df3c"/><circle cx="1196.71" cy="859.45" r="8.81" fill="#ecd535"/><circle cx="1093.14" cy="761.57" r="7.9" fill="#f4e04a"/><circle cx="1382.81" cy="830.64" r="6.46" fill="#f3df3c"/><circle cx="1099.12" cy="549.59" r="3.53" fill="#f6e24a"/><circle cx="1113.87" cy="580.36" r="6.33" fill="#f3df3c"/><circle cx="1048.56" cy="856.84" r="7.43" fill="#f0dc44"/><circle cx="1047.78" cy="709.73" r="6.46" fill="#c8bb40"/><circle cx="1144.88" cy="639.9" r="5.1" fill="#ecd535"/><circle cx="1257.18" cy="665.34" r="4.68" fill="#ecd535"/><circle cx="1093.48" cy="838" r="6.25" fill="#e6d23a"/><circle cx="1452.54" cy="614.94" r="5.52" fill="#c8bb40"/><circle cx="1055.93" cy="876.72" r="3.31" fill="#f4e04a"/><circle cx="1188.96" cy="548.17" r="5.01" fill="#f1dd3a"/><circle cx="1410.93" cy="693.99" r="8.91" fill="#f4e04a"/><circle cx="1398.62" cy="821.43" r="3.32" fill="#c8bb40"/><circle cx="1104.52" cy="746.07" r="5.12" fill="#f1dd3a"/><circle cx="1122.5" cy="585.96" r="4.2" fill="#f3df3c"/><circle cx="1139.21" cy="629.33" r="5.38" fill="#dccc3c"/><circle cx="1318.61" cy="804.17" r="8.31" fill="#f3df3c"/><circle cx="1055.12" cy="728.71" r="4.59" fill="#f0dc44"/><circle cx="1316.43" cy="802.85" r="3.21" fill="#ecd535"/><circle cx="1150.26" cy="674.14" r="5.6" fill="#f3df3c"/><circle cx="1166.51" cy="577.44" r="6.89" fill="#ecd535"/><circle cx="1066.55" cy="871.59" r="8.53" fill="#f0dc44"/><circle cx="1077.17" cy="705.61" r="8.59" fill="#dccc3c"/><circle cx="1094.52" cy="499.12" r="5.44" fill="#f0dc44"/><circle cx="1160.61" cy="771.17" r="7.44" fill="#f0dc44"/><circle cx="1409.49" cy="714.48" r="6.42" fill="#f1dd3a"/><circle cx="1128.52" cy="759.66" r="5.77" fill="#c8bb40"/><circle cx="1173.63" cy="655.04" r="7.91" fill="#f3df3c"/><circle cx="1146.59" cy="539.71" r="6.07" fill="#f1dd3a"/><circle cx="1466.63" cy="618.4" r="8.55" fill="#f6e24a"/><circle cx="1419.22" cy="547.34" r="6.34" fill="#dccc3c"/><circle cx="1158.77" cy="835.27" r="4.3" fill="#f3df3c"/><circle cx="1379.74" cy="511.36" r="8.23" fill="#dccc3c"/><circle cx="1329.4" cy="672.65" r="8.01" fill="#f4e04a"/><circle cx="1363.58" cy="489.16" r="8.76" fill="#f6e24a"/><circle cx="1223.37" cy="740.71" r="3.84" fill="#e6d23a"/><circle cx="1311.17" cy="822.5" r="7.93" fill="#c8bb40"/><circle cx="1081.82" cy="825.32" r="8.53" fill="#dccc3c"/><circle cx="1158.22" cy="723.8" r="6.79" fill="#f6e24a"/><circle cx="1162.9" cy="719.63" r="3.67" fill="#dccc3c"/><circle cx="1344.76" cy="569.63" r="5.12" fill="#f4e04a"/><circle cx="1211.9" cy="689.91" r="5.31" fill="#f4e04a"/><circle cx="1042.98" cy="775.6" r="8.94" fill="#f1dd3a"/><circle cx="1235.37" cy="522.9" r="3.87" fill="#f1dd3a"/><circle cx="1182.5" cy="819.53" r="8.03" fill="#f4e04a"/><circle cx="1129.9" cy="631.9" r="8.46" fill="#f3df3c"/><circle cx="1051.25" cy="555.45" r="8.38" fill="#f0dc44"/><circle cx="1444.94" cy="788.07" r="6.23" fill="#f1dd3a"/><circle cx="1267.68" cy="672.77" r="7.11" fill="#f1dd3a"/><circle cx="1140.88" cy="624.28" r="6.01" fill="#c8bb40"/><circle cx="1448.5" cy="509.4" r="5.53" fill="#f1dd3a"/><circle cx="1233.67" cy="721.07" r="8.98" fill="#f4e04a"/><circle cx="1344.29" cy="775.91" r="3.55" fill="#f4e04a"/><circle cx="1179.95" cy="880.29" r="7.96" fill="#c8bb40"/><circle cx="1117.26" cy="735.17" r="4.77" fill="#f4e04a"/><circle cx="1401.04" cy="885.61" r="8.33" fill="#f1dd3a"/><circle cx="1317.68" cy="675.83" r="7.9" fill="#e6d23a"/><circle cx="1262.15" cy="524.65" r="6.78" fill="#ecd535"/><circle cx="1195.4" cy="887.19" r="6.82" fill="#f3df3c"/><circle cx="1352.68" cy="688.82" r="8.5" fill="#f1dd3a"/><circle cx="1410.55" cy="703.79" r="7.01" fill="#e6d23a"/><circle cx="1117.09" cy="786.03" r="6.4" fill="#c8bb40"/><circle cx="1266.31" cy="504.67" r="6.61" fill="#f6e24a"/><circle cx="1108.98" cy="781.77" r="3.64" fill="#ecd535"/><circle cx="1073.5" cy="866.53" r="5.94" fill="#dccc3c"/><circle cx="1309.72" cy="802.97" r="3.37" fill="#f3df3c"/><circle cx="1341.21" cy="700.48" r="3.86" fill="#e6d23a"/><circle cx="1195.69" cy="516.24" r="3.6" fill="#ecd535"/><circle cx="1193.51" cy="642.43" r="5.31" fill="#f3df3c"/><circle cx="1136.82" cy="618.2" r="7.58" fill="#f3df3c"/><circle cx="1233.44" cy="719.08" r="4.5" fill="#f3df3c"/><circle cx="1110.14" cy="704.15" r="4.04" fill="#f3df3c"/><circle cx="1435.5" cy="807.15" r="4.82" fill="#f0dc44"/><circle cx="1462.41" cy="663" r="8.7" fill="#e6d23a"/><circle cx="1338" cy="743.71" r="6.51" fill="#f1dd3a"/><circle cx="1176.03" cy="833.89" r="5.91" fill="#e6d23a"/><circle cx="1078.48" cy="516.47" r="3.05" fill="#f0dc44"/><circle cx="1214.25" cy="603.32" r="5.01" fill="#f1dd3a"/><circle cx="1187.79" cy="733.08" r="8.77" fill="#f1dd3a"/><circle cx="1403.36" cy="598.06" r="4.47" fill="#e6d23a"/><circle cx="1245.49" cy="595.02" r="5.61" fill="#f0dc44"/><circle cx="1332.28" cy="593.64" r="3.94" fill="#f6e24a"/><circle cx="1080.76" cy="561.35" r="8.01" fill="#f6e24a"/><circle cx="1284.19" cy="650.17" r="7.77" fill="#e6d23a"/><circle cx="1110.06" cy="598.81" r="7.33" fill="#f1dd3a"/><circle cx="1316.91" cy="701.33" r="4.78" fill="#dccc3c"/><circle cx="1262.13" cy="542.27" r="5.72" fill="#f6e24a"/><circle cx="1454.52" cy="889.06" r="6.58" fill="#dccc3c"/><circle cx="1298.53" cy="605.6" r="4.48" fill="#c8bb40"/><circle cx="1133.52" cy="832.58" r="3.74" fill="#c8bb40"/><circle cx="1080.25" cy="823.34" r="7.42" fill="#f1dd3a"/><circle cx="1052.64" cy="763.2" r="3.87" fill="#f3df3c"/><circle cx="1414.44" cy="584.47" r="6.98" fill="#ecd535"/><circle cx="1069.96" cy="851.23" r="7.83" fill="#f0dc44"/><circle cx="1124.84" cy="763.42" r="3.53" fill="#f0dc44"/><circle cx="1095.5" cy="762.51" r="4.69" fill="#f1dd3a"/><circle cx="1411.52" cy="649.01" r="6.77" fill="#f6e24a"/><circle cx="1452.17" cy="519.38" r="7.8" fill="#f4e04a"/><circle cx="1243.54" cy="889.97" r="5.4" fill="#ecd535"/><circle cx="1362.98" cy="760.66" r="3.24" fill="#f3df3c"/><circle cx="1307.75" cy="633.82" r="7.54" fill="#f6e24a"/><circle cx="1320.86" cy="520.85" r="6.42" fill="#c8bb40"/><circle cx="1152.07" cy="635.72" r="7.11" fill="#f4e04a"/><circle cx="1328.38" cy="845.48" r="8.25" fill="#f3df3c"/><circle cx="1468.62" cy="746.48" r="3.22" fill="#f4e04a"/><circle cx="1132.46" cy="851.52" r="7.5" fill="#ecd535"/><circle cx="1223.58" cy="774.77" r="8.99" fill="#e6d23a"/><circle cx="1226.55" cy="858.59" r="7.15" fill="#dccc3c"/><circle cx="1263.81" cy="744.46" r="4.24" fill="#c8bb40"/><circle cx="1412.49" cy="790.21" r="5.94" fill="#e6d23a"/><circle cx="1059.22" cy="756.23" r="7.83" fill="#f0dc44"/><circle cx="1143.84" cy="557.12" r="8.78" fill="#f6e24a"/><circle cx="1197.44" cy="625.24" r="4.21" fill="#f0dc44"/><circle cx="1100.36" cy="748.8" r="5.92" fill="#dccc3c"/><circle cx="1144.66" cy="548.77" r="6.09" fill="#dccc3c"/><circle cx="1098.56" cy="728.41" r="7.19" fill="#f6e24a"/><circle cx="1186.77" cy="806.93" r="6.29" fill="#f6e24a"/><circle cx="1409.37" cy="622.74" r="4.24" fill="#f0dc44"/><circle cx="1045.44" cy="658.97" r="3.26" fill="#f0dc44"/><circle cx="1173.72" cy="489.77" r="8.78" fill="#f6e24a"/><circle cx="1182.77" cy="650.9" r="5.18" fill="#f6e24a"/><circle cx="1471.12" cy="658.49" r="7.48" fill="#f4e04a"/><circle cx="1471.3" cy="693.64" r="3.65" fill="#dccc3c"/><circle cx="1460.96" cy="659.75" r="7.7" fill="#f4e04a"/><circle cx="1043.65" cy="853.8" r="6.87" fill="#f0dc44"/><circle cx="1051.13" cy="617.87" r="3.87" fill="#f4e04a"/><circle cx="1121.72" cy="727.15" r="8.07" fill="#f6e24a"/><circle cx="1084.96" cy="763.48" r="4.86" fill="#f4e04a"/><circle cx="1206.93" cy="731.29" r="5.14" fill="#e6d23a"/><circle cx="1202.15" cy="688.01" r="5.22" fill="#f0dc44"/><circle cx="1316.41" cy="808.88" r="7.23" fill="#f3df3c"/><circle cx="1455.77" cy="662.47" r="6" fill="#f6e24a"/><circle cx="1478.08" cy="711.18" r="6.76" fill="#f6e24a"/><circle cx="1342.71" cy="513.64" r="8.82" fill="#ecd535"/><circle cx="1470.78" cy="822.8" r="5.88" fill="#e6d23a"/><circle cx="1416.34" cy="794.11" r="5.55" fill="#f0dc44"/><circle cx="1460.64" cy="519.33" r="5.27" fill="#f3df3c"/><circle cx="1234.99" cy="693.52" r="5.09" fill="#e6d23a"/><circle cx="1246.29" cy="684.22" r="6.1" fill="#f1dd3a"/><circle cx="1467.37" cy="848.92" r="8.19" fill="#f1dd3a"/><circle cx="1463.2" cy="718.94" r="7.87" fill="#f3df3c"/><circle cx="1358.02" cy="589.19" r="6.95" fill="#f1dd3a"/><circle cx="1459.24" cy="656.33" r="6.88" fill="#f0dc44"/><circle cx="1420.72" cy="678.68" r="6.8" fill="#e6d23a"/><circle cx="1137.89" cy="772.87" r="7.15" fill="#f6e24a"/><circle cx="1330.61" cy="607.4" r="6.48" fill="#f1dd3a"/><circle cx="1198.4" cy="548.11" r="5.65" fill="#f0dc44"/><circle cx="1150.68" cy="660.17" r="6.32" fill="#e6d23a"/><circle cx="1278.14" cy="753.53" r="7.41" fill="#ecd535"/><circle cx="1414.68" cy="745.77" r="7.8" fill="#f6e24a"/><circle cx="1419.93" cy="687.75" r="7.29" fill="#ecd535"/><circle cx="1315.7" cy="872.17" r="6.09" fill="#dccc3c"/><circle cx="1405.29" cy="616.38" r="4.03" fill="#e6d23a"/><circle cx="1287.73" cy="788.74" r="3.82" fill="#f3df3c"/><circle cx="1348.85" cy="870.03" r="5.76" fill="#ecd535"/><circle cx="1351.27" cy="631.69" r="8.33" fill="#e6d23a"/><circle cx="1287.7" cy="852.88" r="8.22" fill="#f6e24a"/><circle cx="1201.47" cy="818.66" r="7.82" fill="#f3df3c"/><circle cx="1364.39" cy="866.61" r="7.33" fill="#f3df3c"/><circle cx="1399.28" cy="599.05" r="5.13" fill="#f4e04a"/><circle cx="1337.1" cy="554.57" r="4.16" fill="#dccc3c"/><circle cx="1049.36" cy="884.93" r="5.64" fill="#f3df3c"/><circle cx="1106.11" cy="858.99" r="8.24" fill="#f1dd3a"/><circle cx="1407.93" cy="704.74" r="4.5" fill="#f0dc44"/><circle cx="1106.41" cy="665.8" r="8.24" fill="#f3df3c"/><circle cx="1072.83" cy="719.19" r="6.87" fill="#f1dd3a"/><circle cx="1410.9" cy="875.39" r="7.16" fill="#dccc3c"/><circle cx="1213.1" cy="832.86" r="6.67" fill="#ecd535"/><circle cx="1198.81" cy="677.72" r="4.87" fill="#f6e24a"/><circle cx="1198.83" cy="650.49" r="6.46" fill="#f1dd3a"/><circle cx="1452.46" cy="581.46" r="5.01" fill="#dccc3c"/><circle cx="1335.23" cy="562.7" r="4.64" fill="#c8bb40"/><circle cx="1476.2" cy="600.58" r="6.44" fill="#f6e24a"/><circle cx="1379.2" cy="832.57" r="7.65" fill="#ecd535"/><circle cx="1199.68" cy="566.71" r="7.77" fill="#f6e24a"/><circle cx="1339.79" cy="576.8" r="7.58" fill="#f4e04a"/><circle cx="1263.92" cy="725.84" r="5.1" fill="#c8bb40"/><circle cx="1354.9" cy="590.49" r="7.23" fill="#f4e04a"/><circle cx="1428.81" cy="792.15" r="6.02" fill="#e6d23a"/><circle cx="1396.06" cy="888.48" r="3.9" fill="#e6d23a"/><circle cx="1043.18" cy="831.94" r="5.72" fill="#dccc3c"/><circle cx="1214.27" cy="787.56" r="8.58" fill="#ecd535"/><circle cx="1103.28" cy="763.93" r="4.51" fill="#c8bb40"/><circle cx="1329.9" cy="874.62" r="3.44" fill="#e6d23a"/><circle cx="1295.41" cy="884.36" r="5.14" fill="#f1dd3a"/><circle cx="1357.33" cy="854.88" r="8.03" fill="#f4e04a"/><circle cx="1435.61" cy="564.14" r="4.55" fill="#f3df3c"/><circle cx="1373.74" cy="721.9" r="4.42" fill="#f3df3c"/><circle cx="1136.06" cy="619.81" r="4.2" fill="#f0dc44"/><circle cx="1420.19" cy="731.64" r="4.18" fill="#f3df3c"/><circle cx="1463.78" cy="710.46" r="3.48" fill="#f4e04a"/><circle cx="1052.13" cy="584.7" r="8.21" fill="#f3df3c"/><circle cx="1325.53" cy="622.39" r="7.07" fill="#f4e04a"/><circle cx="1116.78" cy="828.49" r="7.78" fill="#ecd535"/><circle cx="1315.58" cy="590.53" r="5.97" fill="#f1dd3a"/><circle cx="1153.09" cy="648.52" r="3.08" fill="#f4e04a"/><circle cx="1288.22" cy="884.39" r="3.34" fill="#f4e04a"/><circle cx="1272.97" cy="818.27" r="5.15" fill="#f4e04a"/><circle cx="1226.22" cy="682.4" r="6.53" fill="#c8bb40"/><circle cx="1107.5" cy="881.63" r="6.45" fill="#e6d23a"/><circle cx="1366.08" cy="556.02" r="7.27" fill="#f3df3c"/><circle cx="1381.44" cy="579.16" r="7.64" fill="#dccc3c"/><circle cx="1286.09" cy="602.61" r="6.18" fill="#f0dc44"/><circle cx="1328.36" cy="788.37" r="5.17" fill="#e6d23a"/><circle cx="1216.37" cy="880.59" r="8.62" fill="#f6e24a"/><circle cx="1093.78" cy="684.47" r="4.23" fill="#f6e24a"/><circle cx="1154.01" cy="712.73" r="7.43" fill="#f6e24a"/><circle cx="1423.17" cy="825.06" r="7.67" fill="#c8bb40"/><circle cx="1052.78" cy="790.15" r="4.46" fill="#dccc3c"/><circle cx="1133.78" cy="850.56" r="8.41" fill="#f1dd3a"/><circle cx="1242.44" cy="585.72" r="8.42" fill="#ecd535"/><circle cx="1442.01" cy="743.4" r="5.1" fill="#e6d23a"/><circle cx="1288.25" cy="624.47" r="8.51" fill="#e6d23a"/><circle cx="1146.4" cy="599.44" r="4.96" fill="#f1dd3a"/><circle cx="1322.79" cy="574.31" r="8.97" fill="#e6d23a"/><circle cx="1471.79" cy="795.87" r="5.86" fill="#f0dc44"/><circle cx="1459.88" cy="501.44" r="3.53" fill="#f3df3c"/><circle cx="1253.64" cy="840.94" r="3.97" fill="#dccc3c"/><circle cx="1414.59" cy="770.98" r="3.28" fill="#dccc3c"/><circle cx="1120.21" cy="828.79" r="8.97" fill="#f0dc44"/><circle cx="1341.47" cy="802.26" r="3.91" fill="#f3df3c"/><circle cx="1098.69" cy="576.22" r="6.02" fill="#f4e04a"/><circle cx="1082.92" cy="515.93" r="3.54" fill="#f4e04a"/><circle cx="1322.55" cy="739.41" r="5.38" fill="#f4e04a"/><circle cx="1388.53" cy="750.26" r="3.23" fill="#c8bb40"/><circle cx="1301.88" cy="698.68" r="7.19" fill="#f3df3c"/><circle cx="1061.26" cy="842.3" r="3.39" fill="#ecd535"/><circle cx="1093" cy="659.31" r="3.81" fill="#f1dd3a"/><circle cx="1041.13" cy="540.76" r="6.24" fill="#c8bb40"/><circle cx="1258.36" cy="853.41" r="5.1" fill="#e6d23a"/><circle cx="1415.4" cy="877.43" r="4.34" fill="#ecd535"/><circle cx="1160.11" cy="519.75" r="3.41" fill="#f3df3c"/><circle cx="1458.85" cy="560.24" r="4.95" fill="#f3df3c"/><circle cx="1327.37" cy="684.79" r="6.29" fill="#f1dd3a"/><circle cx="1472.24" cy="833.33" r="7.31" fill="#f1dd3a"/><circle cx="1225.66" cy="683" r="5.3" fill="#f6e24a"/><circle cx="1210.31" cy="613.44" r="5.46" fill="#f6e24a"/><circle cx="1435.16" cy="725.74" r="4.43" fill="#c8bb40"/><circle cx="1447.56" cy="554.6" r="6.67" fill="#f1dd3a"/><circle cx="1476.05" cy="811.5" r="6.98" fill="#ecd535"/><circle cx="1410.95" cy="792.79" r="8.45" fill="#f3df3c"/><circle cx="1218.56" cy="691.33" r="7.11" fill="#dccc3c"/><circle cx="1281.54" cy="582.03" r="8.83" fill="#f3df3c"/><circle cx="1248.33" cy="731.3" r="5.82" fill="#f4e04a"/><circle cx="1300.61" cy="887.64" r="4.41" fill="#f1dd3a"/><circle cx="1157.22" cy="736.82" r="7.96" fill="#ecd535"/><circle cx="1316.72" cy="684.38" r="4.34" fill="#f0dc44"/><circle cx="1155.4" cy="818.46" r="8.15" fill="#f4e04a"/><circle cx="1269.7" cy="654.48" r="4.33" fill="#f6e24a"/><circle cx="1068.97" cy="780.77" r="5.18" fill="#e6d23a"/><circle cx="1272.09" cy="806.01" r="4.43" fill="#f6e24a"/><circle cx="1107.08" cy="737.82" r="4.07" fill="#f3df3c"/><circle cx="1181.66" cy="602.79" r="8.18" fill="#f1dd3a"/><circle cx="1094.13" cy="509.23" r="3.62" fill="#f4e04a"/><circle cx="1331.72" cy="675.16" r="4.81" fill="#ecd535"/><circle cx="1161.01" cy="570.73" r="5.68" fill="#ecd535"/><circle cx="1237.7" cy="655.25" r="7.79" fill="#c8bb40"/><circle cx="1105.95" cy="746.08" r="5.2" fill="#c8bb40"/><circle cx="1330.52" cy="720.24" r="6.14" fill="#f1dd3a"/><circle cx="1151.26" cy="690.29" r="3" fill="#f0dc44"/><circle cx="1065.4" cy="520.29" r="4.65" fill="#f4e04a"/><circle cx="1152.47" cy="559.43" r="5.63" fill="#c8bb40"/><circle cx="1319.9" cy="826.5" r="4.21" fill="#f1dd3a"/><circle cx="1461.68" cy="570.7" r="7.69" fill="#f3df3c"/><circle cx="1355.66" cy="609.08" r="3.25" fill="#f0dc44"/><circle cx="1466.7" cy="633.94" r="6.64" fill="#f0dc44"/><circle cx="1195.04" cy="613.41" r="6.47" fill="#e6d23a"/><circle cx="1470.18" cy="823.27" r="6.48" fill="#ecd535"/><circle cx="1332.86" cy="588.25" r="3.42" fill="#dccc3c"/><circle cx="1206.94" cy="676.62" r="5.98" fill="#f3df3c"/><circle cx="1087.44" cy="693.57" r="8.61" fill="#f1dd3a"/><circle cx="1222.55" cy="653.12" r="8.34" fill="#dccc3c"/><circle cx="1044.18" cy="544.59" r="4.2" fill="#c8bb40"/><circle cx="1057.86" cy="745.93" r="6.32" fill="#f1dd3a"/><circle cx="1378.75" cy="493.15" r="3.46" fill="#f3df3c"/><circle cx="1352.87" cy="657.26" r="3.33" fill="#f1dd3a"/><circle cx="1411.19" cy="503.1" r="3.3" fill="#f6e24a"/><circle cx="1121.9" cy="682.5" r="6.12" fill="#ecd535"/><circle cx="1177.74" cy="554.76" r="8.15" fill="#c8bb40"/><circle cx="1213.7" cy="838.61" r="7.09" fill="#f0dc44"/><circle cx="1173.98" cy="830.05" r="7.81" fill="#c8bb40"/><circle cx="1153.12" cy="530.9" r="3.31" fill="#c8bb40"/><circle cx="1326.99" cy="859.6" r="6.94" fill="#f6e24a"/><circle cx="1200.92" cy="800.65" r="4.2" fill="#c8bb40"/><circle cx="1332.11" cy="768.17" r="3.05" fill="#ecd535"/><circle cx="1219.93" cy="694.22" r="4.94" fill="#f0dc44"/><circle cx="1136.66" cy="637.6" r="4.2" fill="#e6d23a"/><circle cx="1393.08" cy="706.44" r="5.73" fill="#dccc3c"/><circle cx="1129.7" cy="531.45" r="4.08" fill="#ecd535"/><circle cx="1061.54" cy="828.18" r="3.43" fill="#dccc3c"/><circle cx="1119.27" cy="855.08" r="6.37" fill="#f6e24a"/><circle cx="1259.22" cy="743.23" r="7.05" fill="#f0dc44"/><circle cx="1392.85" cy="680.5" r="3.95" fill="#e6d23a"/><circle cx="1267.14" cy="649.55" r="4.21" fill="#ecd535"/><circle cx="1458.38" cy="626.61" r="6.95" fill="#f0dc44"/><circle cx="1350.73" cy="639.08" r="5.55" fill="#f3df3c"/><circle cx="1446.5" cy="500.03" r="5.68" fill="#e6d23a"/><circle cx="1424.88" cy="798.74" r="7.24" fill="#f6e24a"/><circle cx="1176.21" cy="556.12" r="6.29" fill="#e6d23a"/><circle cx="1106.84" cy="799.72" r="8.88" fill="#f1dd3a"/><circle cx="1468.64" cy="587.43" r="3.94" fill="#f0dc44"/><circle cx="1138.28" cy="685.57" r="3.56" fill="#dccc3c"/><circle cx="1105.53" cy="522.78" r="5.41" fill="#f3df3c"/><circle cx="1478.3" cy="862.74" r="6.16" fill="#f0dc44"/><circle cx="1431.33" cy="850.83" r="4.2" fill="#f0dc44"/><circle cx="1420.16" cy="709" r="6.24" fill="#ecd535"/><circle cx="1128.58" cy="651.71" r="7.61" fill="#e6d23a"/><circle cx="1294.67" cy="574.94" r="6.48" fill="#ecd535"/><circle cx="1465.64" cy="594.93" r="8.67" fill="#f0dc44"/><circle cx="1062.02" cy="589.91" r="5.7" fill="#e6d23a"/><circle cx="1185" cy="603.82" r="3.66" fill="#f0dc44"/><circle cx="1395.96" cy="765.66" r="5.73" fill="#c8bb40"/><circle cx="1089.7" cy="512.62" r="3.22" fill="#f3df3c"/><circle cx="1098.07" cy="700.1" r="5.12" fill="#f4e04a"/><circle cx="1360.15" cy="770.41" r="5.16" fill="#ecd535"/><circle cx="1185.92" cy="819.03" r="8.24" fill="#dccc3c"/><circle cx="1173.49" cy="557.58" r="3.64" fill="#e6d23a"/><circle cx="1091.51" cy="663.26" r="6.22" fill="#ecd535"/><circle cx="1182.68" cy="550.69" r="6.41" fill="#f3df3c"/><circle cx="1262.98" cy="605.1" r="4.19" fill="#f1dd3a"/><circle cx="1284.33" cy="884.62" r="8.45" fill="#c8bb40"/><circle cx="1260.79" cy="840.77" r="3.09" fill="#f3df3c"/><circle cx="1254.9" cy="795.97" r="6.42" fill="#e6d23a"/><circle cx="1479.19" cy="630.8" r="6.75" fill="#ecd535"/><circle cx="1168.46" cy="840.73" r="3.51" fill="#e6d23a"/><circle cx="1142.92" cy="707.88" r="7.7" fill="#f3df3c"/><circle cx="1083.15" cy="536.7" r="7.64" fill="#f6e24a"/><circle cx="1398.44" cy="593.93" r="7.86" fill="#dccc3c"/><circle cx="1300.42" cy="522.26" r="8.59" fill="#f1dd3a"/><circle cx="1054.19" cy="794.88" r="3.89" fill="#c8bb40"/><circle cx="1338.67" cy="508.06" r="3.84" fill="#e6d23a"/><circle cx="1446.96" cy="748.72" r="7.25" fill="#ecd535"/><circle cx="1478.81" cy="796.22" r="5.88" fill="#dccc3c"/><circle cx="1271.24" cy="588.5" r="3.41" fill="#ecd535"/><circle cx="1127.58" cy="721.32" r="8.07" fill="#f1dd3a"/><circle cx="1080.65" cy="762.85" r="5.1" fill="#f6e24a"/><circle cx="1393.47" cy="661.65" r="7.63" fill="#dccc3c"/><circle cx="1099.37" cy="812.79" r="8.62" fill="#f3df3c"/><circle cx="1367.78" cy="814.61" r="7.81" fill="#f6e24a"/><circle cx="1231.54" cy="811.33" r="7.71" fill="#c8bb40"/><circle cx="1171.55" cy="872.42" r="6.19" fill="#ecd535"/><circle cx="1069.93" cy="792.42" r="7.81" fill="#e6d23a"/><circle cx="1145.65" cy="704.43" r="6.37" fill="#dccc3c"/><circle cx="1293" cy="859.96" r="8.34" fill="#f3df3c"/><circle cx="1212.49" cy="792.73" r="7.76" fill="#f4e04a"/><circle cx="1403.34" cy="622.81" r="3.52" fill="#f4e04a"/><circle cx="1331.84" cy="846.86" r="5.56" fill="#f0dc44"/><circle cx="1041.98" cy="660.07" r="3.1" fill="#ecd535"/><circle cx="1426.41" cy="653.92" r="5.46" fill="#f0dc44"/><circle cx="1241.29" cy="590.94" r="4.28" fill="#f4e04a"/><circle cx="1213.3" cy="649.67" r="3.2" fill="#f4e04a"/><circle cx="1078.71" cy="561.95" r="7.21" fill="#dccc3c"/><circle cx="1219.28" cy="682.18" r="4.45" fill="#e6d23a"/><circle cx="1121.01" cy="562.17" r="8.75" fill="#f4e04a"/><circle cx="1113.66" cy="598.2" r="7.9" fill="#f1dd3a"/><circle cx="1175.77" cy="583.32" r="8.26" fill="#e6d23a"/><circle cx="1416.97" cy="875.71" r="5.35" fill="#f3df3c"/><circle cx="1240.01" cy="804.23" r="4.5" fill="#f4e04a"/><circle cx="1337.55" cy="883.03" r="7.41" fill="#c8bb40"/><circle cx="1151.47" cy="627.21" r="6.09" fill="#f4e04a"/><circle cx="1235.4" cy="871.03" r="5.17" fill="#f1dd3a"/><circle cx="1452.64" cy="803.9" r="3.36" fill="#dccc3c"/><circle cx="1257.07" cy="751.21" r="3.11" fill="#ecd535"/><circle cx="1285.26" cy="641.48" r="7.51" fill="#f6e24a"/><circle cx="1360.7" cy="777.42" r="3.21" fill="#f4e04a"/><circle cx="1263.52" cy="888.97" r="4.04" fill="#f0dc44"/><circle cx="1316.01" cy="548.78" r="7.64" fill="#f3df3c"/><circle cx="1225.11" cy="880.17" r="6.89" fill="#f1dd3a"/><circle cx="1256.92" cy="878.56" r="5.16" fill="#f0dc44"/><circle cx="1182.65" cy="815.07" r="5.97" fill="#f3df3c"/><circle cx="1389.21" cy="596.26" r="3.84" fill="#c8bb40"/><circle cx="1269.03" cy="746.63" r="8.45" fill="#f0dc44"/><circle cx="1467.45" cy="789.69" r="5.16" fill="#f6e24a"/><circle cx="1159.83" cy="841.06" r="5.85" fill="#f4e04a"/><circle cx="1448.34" cy="621.38" r="7.09" fill="#f4e04a"/><circle cx="1213.35" cy="613.48" r="8.78" fill="#f0dc44"/><circle cx="1089.49" cy="856.61" r="6.74" fill="#c8bb40"/><circle cx="1408.33" cy="726.7" r="7.67" fill="#f4e04a"/><circle cx="1059.34" cy="565.51" r="6.21" fill="#c8bb40"/><circle cx="1413.16" cy="625.28" r="3.46" fill="#f1dd3a"/><circle cx="1199.61" cy="852.87" r="6.18" fill="#f0dc44"/><circle cx="1045.17" cy="679.49" r="7.19" fill="#f0dc44"/><circle cx="1195.61" cy="862.97" r="4.59" fill="#e6d23a"/><circle cx="1429.79" cy="834.02" r="3.58" fill="#f1dd3a"/><circle cx="1407.14" cy="760.3" r="8.58" fill="#f6e24a"/><circle cx="1323.7" cy="875.28" r="6.8" fill="#ecd535"/><circle cx="1380.83" cy="617.52" r="8.64" fill="#f4e04a"/><circle cx="1215.99" cy="664.92" r="5.02" fill="#f6e24a"/><circle cx="1222" cy="857.26" r="4.73" fill="#e6d23a"/><circle cx="1260.94" cy="823.37" r="7.01" fill="#f1dd3a"/><circle cx="1217.62" cy="698.18" r="4.64" fill="#f6e24a"/><circle cx="1106.51" cy="742.2" r="7.52" fill="#c8bb40"/><circle cx="1094.97" cy="567.17" r="3.2" fill="#f1dd3a"/><circle cx="1349.66" cy="715.56" r="4.65" fill="#ecd535"/><circle cx="1379.47" cy="712.18" r="6.05" fill="#e6d23a"/><circle cx="1437.71" cy="579.16" r="5.16" fill="#ecd535"/><circle cx="1198.27" cy="754.75" r="3.43" fill="#f4e04a"/><circle cx="1136.09" cy="645.98" r="7.58" fill="#dccc3c"/><circle cx="1284.16" cy="803.32" r="3.24" fill="#dccc3c"/><circle cx="1088.64" cy="541.01" r="6.78" fill="#f4e04a"/><circle cx="1464.48" cy="678.81" r="4.38" fill="#c8bb40"/><circle cx="1389.13" cy="534.04" r="7.85" fill="#c8bb40"/><circle cx="1353.76" cy="540.34" r="7.86" fill="#f0dc44"/><circle cx="1358.79" cy="703.21" r="5.4" fill="#c8bb40"/><circle cx="1459.99" cy="624.06" r="7" fill="#f3df3c"/><circle cx="1393.83" cy="872.6" r="4.98" fill="#f0dc44"/><circle cx="1071.41" cy="655.04" r="3.8" fill="#dccc3c"/><circle cx="1466.44" cy="836.17" r="6.71" fill="#e6d23a"/><circle cx="1190.34" cy="525.46" r="4.7" fill="#e6d23a"/><circle cx="1073.64" cy="843.84" r="3.1" fill="#e6d23a"/><circle cx="1387.7" cy="774.38" r="7.64" fill="#e6d23a"/><circle cx="1286.52" cy="755.55" r="8.84" fill="#f3df3c"/><circle cx="1444.78" cy="765.14" r="7.32" fill="#ecd535"/><circle cx="1195.72" cy="628.06" r="8.01" fill="#c8bb40"/></g>
<rect x="1040" y="440" width="440" height="450" fill="#000" filter="url(#texDark)" opacity="0.72"/>
<rect x="1040" y="440" width="440" height="450" fill="#000" filter="url(#texBright)" opacity="0.9"/>
</g>
<g filter="url(#blur8)">
<ellipse cx="1442" cy="655" rx="36" ry="40" fill="#f2e040"/>
<ellipse cx="1398" cy="785" rx="34" ry="34" fill="#f0dc40"/>
<ellipse cx="1428" cy="488" rx="18" ry="26" fill="#e6d23a"/>
<ellipse cx="1318" cy="622" rx="22" ry="26" fill="#eee070"/>
<ellipse cx="1440" cy="860" rx="40" ry="30" fill="#efdc45"/>
</g>
<path d="M1466,470 C1458,495 1445,525 1431,558 C1418,590 1405,620 1390,646 C1378,668 1366,688 1354,707 C1342,730 1330,755 1318,779 C1305,805 1295,830 1287,851 L1277,890" stroke="#68684a" stroke-width="16" fill="none" filter="url(#blur4)" opacity="0.88"/>
<path d="M1470,680 C1462,720 1456,760 1450,800" stroke="#7a7840" stroke-width="7" fill="none" filter="url(#blur4)" opacity="0.6"/>
<rect x="1040" y="380" width="330" height="510" fill="url(#hazeG)"/>
</g>
<path d="M1153.4,888.6 a745.8,745.8 0 1 0 1491.6,0 a745.8,745.8 0 1 0 -1491.6,0 Z M1156.4,896.1 a736.3,736.3 0 1 0 1472.6,0 a736.3,736.3 0 1 0 -1472.6,0 Z" fill="url(#bandG)" fill-rule="evenodd" clip-path="url(#bandClip)"/>
<rect x="1000" y="500" width="480" height="390" fill="url(#fadeH)" mask="url(#fadeMask)"/>
<circle cx="1175" cy="656" r="121" fill="#000" opacity="0.13" filter="url(#blur4)"/>
<circle cx="1175" cy="660.2" r="121.5" fill="#fff"/>
<path d="M731.6,463.2 L470.33,388.28 A271.8,271.8 0 0 1 638.64,207.79 Z" fill="url(#gCrush)"/>
<path d="M731.6,463.2 L638.64,207.79 A271.8,271.8 0 0 1 769.43,194.05 Z" fill="url(#gMout)"/>
<path d="M731.6,463.2 L769.43,194.05 A271.8,271.8 0 0 1 978.73,350.05 Z" fill="url(#gMol)"/>
<path d="M731.6,463.2 L978.73,350.05 A271.8,271.8 0 0 1 972.03,589.96 Z" fill="url(#gBio)"/>
<path d="M731.6,463.2 L972.03,589.96 A271.8,271.8 0 0 1 470.33,388.28 Z" fill="url(#gYel)"/>
<circle cx="731.6" cy="464.2" r="128" fill="#fff" filter="url(#inset)"/>
<text x="579.8" y="328.9" font-size="23.2" fill="#ffffff" font-weight="bold" text-anchor="middle" textLength="66.5" lengthAdjust="spacingAndGlyphs">Crush</text>
<text x="580.6" y="359.8" font-size="23.2" fill="#ffffff" font-weight="bold" text-anchor="middle" textLength="96.2" lengthAdjust="spacingAndGlyphs">2.350 kT</text>
<text x="710" y="249.2" font-size="23.8" fill="#f1fde9" font-weight="bold" text-anchor="middle" textLength="92.3" lengthAdjust="spacingAndGlyphs">Mouterij</text>
<text x="710.2" y="285.2" font-size="24.3" fill="#f1fde9" font-weight="bold" text-anchor="middle" textLength="82" lengthAdjust="spacingAndGlyphs">1.218 kT</text>
<text x="855.8" y="296.7" font-size="23.5" fill="#2e4356" font-weight="bold" text-anchor="middle" textLength="80" lengthAdjust="spacingAndGlyphs">Molens</text>
<text x="856.4" y="332.6" font-size="23.8" fill="#2e4356" font-weight="bold" text-anchor="middle" textLength="97.8" lengthAdjust="spacingAndGlyphs">2.500 kT</text>
<text x="930.4" y="442.6" font-size="23" fill="#ffffff" font-weight="bold" text-anchor="middle" textLength="125" lengthAdjust="spacingAndGlyphs">Bio-ethanol/</text>
<text x="930.6" y="467.7" font-size="23" fill="#ffffff" font-weight="bold" text-anchor="middle" textLength="80.2" lengthAdjust="spacingAndGlyphs">Zetmeel</text>
<text x="933.8" y="497.7" font-size="23.8" fill="#ffffff" font-weight="bold" text-anchor="middle" textLength="91.6" lengthAdjust="spacingAndGlyphs">2.282 kT</text>
<text x="732.4" y="435.6" font-size="18.5" fill="#2d4668" font-weight="bold" text-anchor="middle" textLength="69.8" lengthAdjust="spacingAndGlyphs">Verbruik</text>
<text x="732.4" y="459.3" font-size="18.5" fill="#2d4668" font-weight="bold" text-anchor="middle" textLength="95.6" lengthAdjust="spacingAndGlyphs">van product</text>
<text x="733" y="498.7" font-size="28" fill="#2d4668" font-weight="bold" text-anchor="middle" textLength="116.3" lengthAdjust="spacingAndGlyphs">15.670 kT</text>
<text x="568.2" y="580.4" font-size="22" fill="#184c5a" font-weight="bold" text-anchor="middle" textLength="91" lengthAdjust="spacingAndGlyphs">7.320 KT</text>
<text x="726.5" y="695.6" font-size="21.5" fill="#184c5a" font-weight="bold" text-anchor="middle" textLength="214.2" lengthAdjust="spacingAndGlyphs">Diervoederproductie</text>
<text x="748.7" y="80" font-size="17.5" fill="#34a04c" font-weight="bold" text-anchor="end" textLength="41.2" lengthAdjust="spacingAndGlyphs">Mout</text>
<text x="748.3" y="103.4" font-size="17.5" fill="#34a04c" font-weight="bold" text-anchor="end" textLength="54.1" lengthAdjust="spacingAndGlyphs">990 kT</text>
<line x1="766.3" y1="69.2" x2="766.3" y2="107.2" stroke="#6a7383" stroke-width="1.3"/>
<text x="778.7" y="80" font-size="17.5" fill="#34a04c" font-weight="bold" text-anchor="start" textLength="29" lengthAdjust="spacingAndGlyphs">Bier</text>
<text x="778.7" y="103.4" font-size="17.5" fill="#34a04c" font-weight="bold" text-anchor="start" textLength="172.6" lengthAdjust="spacingAndGlyphs">20.470.000 hectoliter</text>
<text x="913" y="169.5" font-size="19" fill="#e9a71f" font-weight="bold" text-anchor="start" textLength="126.3" lengthAdjust="spacingAndGlyphs">Bloem 1.923 kT</text>
<path d="M301.4,234 L301.4,104 A130,130 0 0 1 419.65,179.99 Z" fill="#86cdf0"/>
<path d="M301.4,234 L419.65,179.99 A130,130 0 0 1 431,244.2 Z" fill="#dddee1"/>
<path d="M301.4,234 L431,244.2 A130,130 0 1 1 260.8,110.5 Z" fill="#0a9be0"/>
<path d="M301.4,234 L260.8,110.5 A130,130 0 0 1 293.24,104.26 Z" fill="#a8d5b8"/>
<path d="M301.4,234 L293.24,104.26 A130,130 0 0 1 301.4,104 Z" fill="#ffffff"/>
<circle cx="301.4" cy="234" r="130.4" fill="none" stroke="#fff" stroke-width="1.6"/>
<circle cx="301.4" cy="233.5" r="48.5" fill="#fff" filter="url(#inset)"/>
<text x="268.3" y="61.5" font-size="16.5" fill="#4a70a8" font-weight="bold" text-anchor="middle" textLength="20.4" lengthAdjust="spacingAndGlyphs">1%</text>
<polyline points="285.6,71.5 296.8,71.5 297.1,104" fill="none" stroke="#333" stroke-width="1.3"/>
<text x="282" y="131.6" font-size="16.5" fill="#fff" font-weight="bold" text-anchor="middle" textLength="20.7" lengthAdjust="spacingAndGlyphs">4%</text>
<text x="360.8" y="152" font-size="16.5" fill="#3e64a5" font-weight="bold" text-anchor="middle" textLength="29.5" lengthAdjust="spacingAndGlyphs">18%</text>
<text x="401.1" y="218" font-size="16.5" fill="#3e64a5" font-weight="bold" text-anchor="middle" textLength="20.6" lengthAdjust="spacingAndGlyphs">8%</text>
<text x="228.8" y="288.4" font-size="16.5" fill="#fff" font-weight="bold" text-anchor="middle" textLength="30.3" lengthAdjust="spacingAndGlyphs">68%</text>
<text x="301.4" y="231" font-size="16.5" fill="#2d3f5c" font-weight="bold" text-anchor="middle" textLength="41.7" lengthAdjust="spacingAndGlyphs">Meel/</text>
<text x="301.4" y="251.4" font-size="16.5" fill="#2d3f5c" font-weight="bold" text-anchor="middle" textLength="56.7" lengthAdjust="spacingAndGlyphs">Schroot</text>
<rect x="210.9" y="364.7" width="11.7" height="11.5" fill="#84c9ec"/>
<text x="231.5" y="376.4" font-size="16" fill="#5a5a5a" font-weight="normal" text-anchor="start" textLength="58.5" lengthAdjust="spacingAndGlyphs" stroke="#5a5a5a" stroke-width="0.3">Lijnzaad</text>
<rect x="210.9" y="384.1" width="11.7" height="11.5" fill="#dcdcde"/>
<text x="231.5" y="395.8" font-size="16" fill="#5a5a5a" font-weight="normal" text-anchor="start" textLength="30.5" lengthAdjust="spacingAndGlyphs" stroke="#5a5a5a" stroke-width="0.3">Soja</text>
<rect x="210.9" y="403.1" width="11.7" height="11.5" fill="#5090cc"/>
<text x="231.5" y="414.8" font-size="16" fill="#5a5a5a" font-weight="normal" text-anchor="start" textLength="101.5" lengthAdjust="spacingAndGlyphs" stroke="#5a5a5a" stroke-width="0.3">Kool/raapzaad</text>
<rect x="210.9" y="422.5" width="11.7" height="11.5" fill="#0a98de"/>
<text x="231.5" y="434.2" font-size="16" fill="#5a5a5a" font-weight="normal" text-anchor="start" textLength="119.5" lengthAdjust="spacingAndGlyphs" stroke="#5a5a5a" stroke-width="0.3">Zonnebloemzaad</text>
<rect x="210.9" y="442" width="11.7" height="11.5" fill="#a0d3b2"/>
<text x="231.5" y="453.7" font-size="16" fill="#5a5a5a" font-weight="normal" text-anchor="start" textLength="49.5" lengthAdjust="spacingAndGlyphs" stroke="#5a5a5a" stroke-width="0.3">Andere</text>
<path d="M259.3,603 L259.3,473 A130,130 0 0 1 382.94,562.83 Z" fill="#fde700"/>
<path d="M259.3,603 L382.94,562.83 A130,130 0 0 1 138.43,650.86 Z" fill="#f9bc0b"/>
<path d="M259.3,603 L138.43,650.86 A130,130 0 0 1 196.67,489.08 Z" fill="#8d4f45"/>
<path d="M259.3,603 L196.67,489.08 A130,130 0 0 1 259.3,473 Z" fill="#fef3a7"/>
<circle cx="259.3" cy="603" r="130.4" fill="none" stroke="#fff" stroke-width="1.6"/>
<circle cx="259.3" cy="603.4" r="48.7" fill="#fff" filter="url(#inset)"/>
<text x="231.1" y="506.6" font-size="16.5" fill="#4b6e96" font-weight="bold" text-anchor="middle" textLength="20.6" lengthAdjust="spacingAndGlyphs">8%</text>
<text x="327.6" y="529.9" font-size="16.5" fill="#4a6a6a" font-weight="bold" text-anchor="middle" textLength="30.1" lengthAdjust="spacingAndGlyphs">20%</text>
<text x="163.2" y="588.2" font-size="16.5" fill="#fff" font-weight="bold" text-anchor="middle" textLength="30.6" lengthAdjust="spacingAndGlyphs">23%</text>
<text x="294.2" y="695" font-size="16.5" fill="#4a6a82" font-weight="bold" text-anchor="middle" textLength="30.4" lengthAdjust="spacingAndGlyphs">49%</text>
<text x="258.8" y="606.7" font-size="16.5" fill="#2d4a6b" font-weight="bold" text-anchor="middle" textLength="80.8" lengthAdjust="spacingAndGlyphs">Diervoeder</text>
<rect x="210.4" y="754.8" width="11.7" height="11.5" fill="#fde400"/>
<text x="231" y="766.5" font-size="16" fill="#5a5a5a" font-weight="normal" text-anchor="start" textLength="63" lengthAdjust="spacingAndGlyphs" stroke="#5a5a5a" stroke-width="0.3">Pluimvee</text>
<rect x="210.4" y="773.6" width="11.7" height="11.5" fill="#f8b80d"/>
<text x="231" y="785.3" font-size="16" fill="#5a5a5a" font-weight="normal" text-anchor="start" textLength="56" lengthAdjust="spacingAndGlyphs" stroke="#5a5a5a" stroke-width="0.3">Varkens</text>
<rect x="210.4" y="793.1" width="11.7" height="11.5" fill="#8c4b41"/>
<text x="231" y="804.8" font-size="16" fill="#5a5a5a" font-weight="normal" text-anchor="start" textLength="123.5" lengthAdjust="spacingAndGlyphs" stroke="#5a5a5a" stroke-width="0.3">Melk- en vleesvee</text>
<rect x="210.4" y="812.6" width="11.7" height="11.5" fill="#fff1a2"/>
<text x="231" y="824.3" font-size="16" fill="#5a5a5a" font-weight="normal" text-anchor="start" textLength="280" lengthAdjust="spacingAndGlyphs" stroke="#5a5a5a" stroke-width="0.3">Specialiteit/hobby (Schaap, Paard, Hond,</text>
<text x="231.4" y="843.6" font-size="16" fill="#5a5a5a" font-weight="normal" text-anchor="start" textLength="132.5" lengthAdjust="spacingAndGlyphs" stroke="#5a5a5a" stroke-width="0.3">Kat, Konijn, Duif, &#8230;)</text>
<path d="M1211.3,319.7 L1217.75,200.67 A119.2,119.2 0 1 1 1200.7,200.97 Z" fill="url(#gZet)"/>
<path d="M1211.3,319.7 L1200.7,200.97 A119.2,119.2 0 0 1 1217.75,200.67 Z" fill="#86ccee"/>
<circle cx="1211.3" cy="320.2" r="55.5" fill="#fff" filter="url(#inset)"/>
<text x="1177.6" y="176.5" font-size="16.5" fill="#4a6fa8" font-weight="bold" text-anchor="middle" textLength="20" lengthAdjust="spacingAndGlyphs">2%</text>
<polyline points="1197.7,171.6 1208.1,171.6 1208.6,201" fill="none" stroke="#555" stroke-width="1.3"/>
<text x="1212.6" y="407.6" font-size="16.5" fill="#fff" font-weight="bold" text-anchor="middle" textLength="30" lengthAdjust="spacingAndGlyphs">98%</text>
<text x="1210.6" y="321.8" font-size="16.5" fill="#2d3f5c" font-weight="bold" text-anchor="middle" textLength="61.2" lengthAdjust="spacingAndGlyphs">Zetmeel</text>
<rect x="1264.5" y="153.4" width="12.2" height="11.4" fill="#86ccee"/>
<rect x="1264.5" y="172.5" width="12.2" height="11.4" fill="url(#gBle)"/>
<text x="1285.3" y="164.3" font-size="16" fill="#5a5a5a" font-weight="normal" text-anchor="start" textLength="65.5" lengthAdjust="spacingAndGlyphs" stroke="#5a5a5a" stroke-width="0.3">Gele erwt</text>
<text x="1285.3" y="183.3" font-size="16" fill="#5a5a5a" font-weight="normal" text-anchor="start" textLength="21" lengthAdjust="spacingAndGlyphs" stroke="#5a5a5a" stroke-width="0.3">Bl&#233;</text>
<path d="M1175,660.2 L1292.8,637.3 A120,120 0 1 1 1175,540.2 Z" fill="url(#gTar)"/>
<path d="M1175,660.2 L1175,540.2 A120,120 0 0 1 1292.8,637.3 Z" fill="#fbe5d7"/>
<line x1="1175.2" y1="539" x2="1175.2" y2="612" stroke="#fff" stroke-width="1.4"/>
<circle cx="1175" cy="662.7" r="54.5" fill="#fff" filter="url(#inset)"/>
<text x="1248.7" y="611" font-size="16.5" fill="#3e64a5" font-weight="bold" text-anchor="middle" textLength="31.5" lengthAdjust="spacingAndGlyphs">28%</text>
<text x="1182.3" y="747.5" font-size="16.5" fill="#fff" font-weight="bold" text-anchor="middle" textLength="31.1" lengthAdjust="spacingAndGlyphs">72%</text>
<text x="1177.4" y="652.2" font-size="16.5" fill="#2d3f5c" font-weight="bold" text-anchor="middle" textLength="29.3" lengthAdjust="spacingAndGlyphs">Bio-</text>
<text x="1176.8" y="673.6" font-size="16.5" fill="#2d3f5c" font-weight="bold" text-anchor="middle" textLength="55" lengthAdjust="spacingAndGlyphs">ethanol</text>
<rect x="1001.3" y="726.3" width="11.9" height="11.6" fill="#fbe3d5"/>
<rect x="1001.3" y="745.2" width="11.9" height="11.6" fill="url(#gTarw)"/>
<text x="1021.1" y="737.9" font-size="16" fill="#5a5a5a" font-weight="normal" text-anchor="start" textLength="35" lengthAdjust="spacingAndGlyphs" stroke="#5a5a5a" stroke-width="0.3">Ma&#239;s</text>
<text x="1021.1" y="756.8" font-size="16" fill="#5a5a5a" font-weight="normal" text-anchor="start" textLength="43" lengthAdjust="spacingAndGlyphs" stroke="#5a5a5a" stroke-width="0.3">Tarwe</text>
<path d="M720.7,228.2 C709,212 710,190 722,164 L737.7,140.7 L729.6,139.9 Q746,123 764.9,120 Q765.5,138 760.6,154.3 L753,147.5 C742,165 730,185 723,205 C721,214 721,221 720.7,228.2 Z" fill="url(#aGreen)" stroke="#f4fbe0" stroke-width="1.4" stroke-linejoin="miter"/>
<path d="M816.3,255.2 C812,240 818,225 835,208 L867.9,182.6 L861.1,177.8 Q882,170.5 902.1,174.8 Q894,191 883.5,203.6 L878.7,193.7 C860,205 840,222 826,240 C821,246 818,250 816.3,255.2 Z" fill="url(#aOrange)" stroke="#fff6c8" stroke-width="1.4" stroke-linejoin="miter"/>
<path d="M508.6,343.7 C508,330 500,318 485,307 C470,297 455,290 443.1,284.9 L448.7,277.5 Q426,275.5 406.3,283.2 Q417,297 432.3,308.1 L435.1,297.3 C450,303 470,315 490,327 C500,334 505,338 508.6,343.7 Z" fill="url(#aCrush)" stroke="#fff" stroke-width="1.4" stroke-linejoin="miter"/>
<path d="M497.6,499.9 C490,488 478,485 464.9,486.6 C450,488 430,495 410.3,501.3 L410.8,490.9 Q391,503 381.9,527.9 Q401,524.5 421.2,529.6 L414.1,517.4 C430,510 450,503 465,501 C480,499 490,498 497.6,499.9 Z" fill="#ffe600" stroke="#3a3d3a" stroke-width="1.3" stroke-linejoin="miter"/>
<path d="M970.4,407.7 C966,395 972,383 985,374 C1000,364 1018,355 1033.4,347.6 L1027.6,341.2 Q1048,336.5 1068.5,345.2 Q1055,356 1044.9,371.2 L1041.1,360.6 C1025,367 1005,378 990,388 C980,395 974,401 970.4,407.7 Z" fill="#36a4dd" stroke="#fff" stroke-width="1.4" stroke-linejoin="miter"/>
<path d="M953.8,534.7 C960,524 975,521 989,523.2 C1005,526 1025,535 1042.8,542.2 L1043.2,532.7 Q1058,547 1067,567.7 Q1049,562 1031.8,566.4 L1038,555.8 C1020,548 1005,541 989,538.2 C975,535.5 962,534 953.8,534.7 Z" fill="#36a4dd" stroke="#fff" stroke-width="1.4" stroke-linejoin="miter"/>
<path d="M653.5,608.2 C657.3,608.2 658.8,611.6 664.3,611.6 L684.6,611.6 C690.1,611.6 691.6,608.2 695.4,608.2 Q697.6,608.2 697.6,610.4 C697.6,614.2 695.2,615.7 695.2,621.2 L695.2,654.1 C695.2,659.6 697.6,661.1 697.6,664.9 Q697.6,667.1 695.4,667.1 C691.6,667.1 690.1,663.7 684.6,663.7 L664.3,663.7 C658.8,663.7 657.3,667.1 653.5,667.1 Q651.3,667.1 651.3,664.9 C651.3,661.1 653.7,659.6 653.7,654.1 L653.7,621.2 C653.7,615.7 651.3,614.2 651.3,610.4 Q651.3,608.2 653.5,608.2 Z" fill="none" stroke="#344740" stroke-width="2.4" stroke-linejoin="round"/>
<path d="M705,608.2 C708.8,608.2 710.3,611.6 715.8,611.6 L736.1,611.6 C741.6,611.6 743.1,608.2 746.9,608.2 Q749.1,608.2 749.1,610.4 C749.1,614.2 746.7,615.7 746.7,621.2 L746.7,654.1 C746.7,659.6 749.1,661.1 749.1,664.9 Q749.1,667.1 746.9,667.1 C743.1,667.1 741.6,663.7 736.1,663.7 L715.8,663.7 C710.3,663.7 708.8,667.1 705,667.1 Q702.8,667.1 702.8,664.9 C702.8,661.1 705.2,659.6 705.2,654.1 L705.2,621.2 C705.2,615.7 702.8,614.2 702.8,610.4 Q702.8,608.2 705,608.2 Z" fill="none" stroke="#344740" stroke-width="2.4" stroke-linejoin="round"/>
<path d="M756.8,608.2 C760.6,608.2 762.1,611.6 767.6,611.6 L787.9,611.6 C793.4,611.6 794.9,608.2 798.7,608.2 Q800.9,608.2 800.9,610.4 C800.9,614.2 798.5,615.7 798.5,621.2 L798.5,654.1 C798.5,659.6 800.9,661.1 800.9,664.9 Q800.9,667.1 798.7,667.1 C794.9,667.1 793.4,663.7 787.9,663.7 L767.6,663.7 C762.1,663.7 760.6,667.1 756.8,667.1 Q754.6,667.1 754.6,664.9 C754.6,661.1 757,659.6 757,654.1 L757,621.2 C757,615.7 754.6,614.2 754.6,610.4 Q754.6,608.2 756.8,608.2 Z" fill="none" stroke="#344740" stroke-width="2.4" stroke-linejoin="round"/>
<g fill="none" stroke="#344740" stroke-width="1.9" stroke-linecap="round" stroke-linejoin="round">
<path d="M665.5,628 Q662,625 662.5,621 Q664.5,624.5 667.5,626"/>
<path d="M682,628 Q685.5,625 685,621 Q683,624.5 680,626"/>
<path d="M666,627.5 Q674,622 682,627.5 Q683.5,636 681,645"/>
<path d="M666,627.5 Q664.5,636 666.5,645"/>
<path d="M665.5,630 Q659,627.5 655.5,631 Q659,634.5 665.5,633.5"/>
<path d="M682.5,630 Q689,627.5 692.5,631 Q689,634.5 682.5,633.5"/>
<ellipse cx="673.8" cy="648.6" rx="8" ry="4.6"/>
</g>
<g fill="#344740">
<path d="M662,621 Q660.5,625 664,628 L666,626.5 Q663,624.5 662,621 Z"/>
<path d="M685.5,621 Q687,625 683.5,628 L681.5,626.5 Q684.5,624.5 685.5,621 Z"/>
<circle cx="668.2" cy="636" r="1.4"/><circle cx="679.3" cy="636" r="1.4"/>
<circle cx="670.8" cy="647.8" r="1.3"/><circle cx="676.9" cy="647.8" r="1.3"/>
<path d="M668.5,652 Q673.8,655.5 679,652 Q677.5,655.5 673.8,655.5 Q670,655.5 668.5,652 Z"/>
</g>
<g fill="none" stroke="#344740" stroke-width="1.9" stroke-linecap="round" stroke-linejoin="round">
<path d="M716.5,625.5 Q713,622.5 711.5,622.8 Q711,628 713.2,632.5 Q711,638 713,643 Q717,652 726,652 Q735,652 739,643 Q741,638 738.8,632.5 Q741,628 740.5,622.8 Q739,622.5 735.5,625.5 Q731,623.5 726,623.5 Q721,623.5 716.5,625.5 Z"/>
<path d="M713.5,624.5 L716,629.5"/><path d="M738.5,624.5 L736,629.5"/>
<ellipse cx="726.2" cy="642.3" rx="6.5" ry="4.6"/>
</g>
<g fill="#344740">
<circle cx="720.3" cy="635.6" r="1.4"/><circle cx="732" cy="635.6" r="1.4"/>
<circle cx="724" cy="642.3" r="1.2"/><circle cx="728.4" cy="642.3" r="1.2"/>
</g>
<g fill="none" stroke="#344740" stroke-width="1.9" stroke-linecap="round" stroke-linejoin="round">
<path d="M773.5,627.5 L773,622.5 L775.8,624.8 L778.6,620.8 L781.4,624.8 L784.2,622.5 L783.7,627.5 Z"/>
<path d="M772,628.5 Q767.5,632 767.5,638 Q765.8,642 766.5,647 Q768,651.5 771.5,652 Q773.5,654.5 776,653.5 Q778.5,655.5 781,653.5 Q783.5,654.5 785.5,652 Q789,651.5 790.5,647 Q791.3,642 789.6,638 Q789.6,632 785.2,628.5 Q778.6,625.5 772,628.5 Z"/>
</g>
<g fill="#344740">
<circle cx="773.8" cy="636.8" r="1.4"/><circle cx="783.6" cy="636.8" r="1.4"/>
<path d="M778.6,638.3 L783,642.5 L778.6,648.2 L774.2,642.5 Z"/>
</g>
<path d="M778.6,641.5 L780,642.8 L778.6,644.3 L777.2,642.8 Z" fill="#f5d400"/>
</svg>
</body></html>
